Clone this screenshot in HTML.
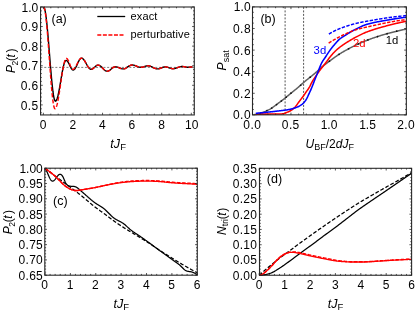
<!DOCTYPE html>
<html><head><meta charset="utf-8"><title>figure</title>
<style>
html,body{margin:0;padding:0;background:#fff;}
svg{will-change:transform;display:block;font-family:"Liberation Sans",sans-serif;}
</style></head>
<body><svg width="415" height="311" viewBox="0 0 415 311">
<rect width="415" height="311" fill="#fff"/>
<path d="M40.55,67.4H194.3" stroke="#505050" stroke-width="0.75" stroke-dasharray="2,1.7" fill="none"/>
<path d="M43.60,7.00 L44.09,7.40 L44.58,8.60 L45.08,10.59 L45.57,13.31 L46.06,16.73 L46.55,20.80 L47.04,25.43 L47.53,30.55 L48.02,36.08 L48.52,41.91 L49.01,47.95 L49.50,54.10 L49.99,60.25 L50.48,66.29 L50.98,72.12 L51.47,77.65 L51.96,82.77 L52.45,87.40 L52.94,91.47 L53.43,94.89 L53.92,97.61 L54.42,99.60 L54.91,100.80 L55.40,101.20 L55.85,101.03 L56.29,100.50 L56.74,99.65 L57.18,98.47 L57.63,96.98 L58.07,95.22 L58.52,93.22 L58.97,91.00 L59.41,88.61 L59.86,86.08 L60.30,83.46 L60.75,80.80 L61.20,78.14 L61.64,75.52 L62.09,72.99 L62.53,70.60 L62.98,68.38 L63.42,66.38 L63.87,64.62 L64.32,63.13 L64.76,61.95 L65.21,61.10 L65.65,60.57 L66.10,60.40 L66.40,60.44 L66.69,60.56 L66.99,60.77 L67.28,61.04 L67.58,61.39 L67.88,61.81 L68.17,62.28 L68.47,62.80 L68.76,63.36 L69.06,63.96 L69.35,64.57 L69.65,65.20 L69.95,65.83 L70.24,66.44 L70.54,67.04 L70.83,67.60 L71.13,68.12 L71.42,68.59 L71.72,69.01 L72.02,69.36 L72.31,69.63 L72.61,69.84 L72.90,69.96 L73.20,70.00 L73.55,69.95 L73.89,69.80 L74.24,69.55 L74.58,69.21 L74.93,68.78 L75.28,68.27 L75.62,67.69 L75.97,67.05 L76.31,66.36 L76.66,65.63 L77.00,64.87 L77.35,64.10 L77.70,63.33 L78.04,62.57 L78.39,61.84 L78.73,61.15 L79.08,60.51 L79.42,59.93 L79.77,59.42 L80.12,58.99 L80.46,58.65 L80.81,58.40 L81.15,58.25 L81.50,58.20 L81.90,58.25 L82.30,58.39 L82.70,58.62 L83.10,58.94 L83.50,59.35 L83.90,59.83 L84.30,60.37 L84.70,60.98 L85.10,61.63 L85.50,62.31 L85.90,63.03 L86.30,63.75 L86.70,64.47 L87.10,65.19 L87.50,65.87 L87.90,66.52 L88.30,67.13 L88.70,67.67 L89.10,68.15 L89.50,68.56 L89.90,68.88 L90.30,69.11 L90.70,69.25 L91.10,69.30 L91.39,69.28 L91.68,69.23 L91.97,69.14 L92.27,69.02 L92.56,68.87 L92.85,68.68 L93.14,68.48 L93.43,68.25 L93.72,68.00 L94.02,67.74 L94.31,67.47 L94.60,67.20 L94.89,66.93 L95.18,66.66 L95.47,66.40 L95.77,66.15 L96.06,65.92 L96.35,65.72 L96.64,65.53 L96.93,65.38 L97.22,65.26 L97.52,65.17 L97.81,65.12 L98.10,65.10 L98.48,65.13 L98.86,65.20 L99.24,65.33 L99.62,65.51 L100.00,65.73 L100.38,65.99 L100.75,66.29 L101.13,66.62 L101.51,66.98 L101.89,67.36 L102.27,67.75 L102.65,68.15 L103.03,68.55 L103.41,68.94 L103.79,69.32 L104.17,69.68 L104.55,70.01 L104.92,70.31 L105.30,70.57 L105.68,70.79 L106.06,70.97 L106.44,71.10 L106.82,71.17 L107.20,71.20 L107.54,71.18 L107.87,71.13 L108.21,71.03 L108.54,70.91 L108.88,70.75 L109.21,70.56 L109.55,70.34 L109.88,70.10 L110.22,69.84 L110.55,69.57 L110.89,69.29 L111.22,69.00 L111.56,68.71 L111.90,68.43 L112.23,68.16 L112.57,67.90 L112.90,67.66 L113.24,67.44 L113.57,67.25 L113.91,67.09 L114.24,66.97 L114.58,66.87 L114.91,66.82 L115.25,66.80 L115.58,66.81 L115.92,66.84 L116.25,66.88 L116.58,66.94 L116.92,67.02 L117.25,67.11 L117.58,67.21 L117.92,67.32 L118.25,67.45 L118.58,67.58 L118.92,67.71 L119.25,67.85 L119.58,67.99 L119.92,68.12 L120.25,68.25 L120.58,68.38 L120.92,68.49 L121.25,68.59 L121.58,68.68 L121.92,68.76 L122.25,68.82 L122.58,68.86 L122.92,68.89 L123.25,68.90 L123.62,68.88 L124.00,68.83 L124.37,68.75 L124.74,68.64 L125.11,68.50 L125.49,68.33 L125.86,68.14 L126.23,67.93 L126.61,67.70 L126.98,67.45 L127.35,67.20 L127.72,66.95 L128.10,66.70 L128.47,66.45 L128.84,66.20 L129.22,65.98 L129.59,65.76 L129.96,65.57 L130.34,65.40 L130.71,65.26 L131.08,65.15 L131.45,65.07 L131.83,65.02 L132.20,65.00 L132.56,65.01 L132.92,65.04 L133.29,65.09 L133.65,65.15 L134.01,65.24 L134.38,65.34 L134.74,65.45 L135.10,65.58 L135.46,65.71 L135.82,65.85 L136.19,66.00 L136.55,66.15 L136.91,66.30 L137.28,66.45 L137.64,66.59 L138.00,66.73 L138.36,66.85 L138.72,66.96 L139.09,67.06 L139.45,67.15 L139.81,67.21 L140.18,67.26 L140.54,67.29 L140.90,67.30 L141.19,67.29 L141.48,67.27 L141.78,67.24 L142.07,67.20 L142.36,67.15 L142.65,67.08 L142.94,67.01 L143.23,66.92 L143.53,66.84 L143.82,66.74 L144.11,66.65 L144.40,66.55 L144.69,66.45 L144.98,66.36 L145.28,66.26 L145.57,66.17 L145.86,66.09 L146.15,66.02 L146.44,65.95 L146.73,65.90 L147.03,65.86 L147.32,65.83 L147.61,65.81 L147.90,65.80 L148.30,65.81 L148.71,65.85 L149.11,65.92 L149.52,66.01 L149.92,66.12 L150.32,66.25 L150.73,66.41 L151.13,66.57 L151.54,66.76 L151.94,66.95 L152.35,67.15 L152.75,67.35 L153.15,67.55 L153.56,67.75 L153.96,67.94 L154.37,68.12 L154.77,68.29 L155.18,68.45 L155.58,68.58 L155.98,68.69 L156.39,68.78 L156.79,68.85 L157.20,68.89 L157.60,68.90 L157.92,68.89 L158.23,68.87 L158.55,68.82 L158.87,68.77 L159.18,68.69 L159.50,68.61 L159.82,68.51 L160.13,68.40 L160.45,68.28 L160.77,68.16 L161.08,68.03 L161.40,67.90 L161.72,67.77 L162.03,67.64 L162.35,67.52 L162.67,67.40 L162.98,67.29 L163.30,67.19 L163.62,67.11 L163.93,67.03 L164.25,66.98 L164.57,66.93 L164.88,66.91 L165.20,66.90 L165.52,66.91 L165.84,66.93 L166.16,66.97 L166.48,67.02 L166.80,67.09 L167.12,67.16 L167.45,67.25 L167.77,67.35 L168.09,67.46 L168.41,67.57 L168.73,67.68 L169.05,67.80 L169.37,67.92 L169.69,68.03 L170.01,68.14 L170.33,68.25 L170.65,68.35 L170.97,68.44 L171.30,68.51 L171.62,68.58 L171.94,68.63 L172.26,68.67 L172.58,68.69 L172.90,68.70 L173.28,68.69 L173.67,68.66 L174.05,68.62 L174.43,68.55 L174.82,68.47 L175.20,68.38 L175.58,68.27 L175.97,68.15 L176.35,68.02 L176.73,67.88 L177.12,67.74 L177.50,67.60 L177.88,67.46 L178.27,67.32 L178.65,67.18 L179.03,67.05 L179.42,66.93 L179.80,66.82 L180.18,66.73 L180.57,66.65 L180.95,66.58 L181.33,66.54 L181.72,66.51 L182.10,66.50 L182.32,66.50 L182.55,66.51 L182.78,66.53 L183.00,66.55 L183.22,66.57 L183.45,66.60 L183.67,66.64 L183.90,66.67 L184.12,66.72 L184.35,66.76 L184.57,66.80 L184.80,66.85 L185.03,66.90 L185.25,66.94 L185.47,66.98 L185.70,67.02 L185.93,67.06 L186.15,67.10 L186.38,67.13 L186.60,67.15 L186.82,67.17 L187.05,67.19 L187.28,67.20 L187.50,67.20 L187.70,67.20 L187.91,67.20 L188.11,67.19 L188.32,67.19 L188.52,67.18 L188.72,67.17 L188.93,67.16 L189.13,67.15 L189.34,67.14 L189.54,67.13 L189.75,67.11 L189.95,67.10 L190.15,67.09 L190.36,67.07 L190.56,67.06 L190.77,67.05 L190.97,67.04 L191.18,67.03 L191.38,67.02 L191.58,67.01 L191.79,67.01 L191.99,67.00 L192.20,67.00 L192.40,67.00" fill="none" stroke="#000" stroke-width="1.4" stroke-linejoin="round"/>
<path d="M43.60,7.00 L44.07,7.44 L44.55,8.73 L45.02,10.87 L45.49,13.82 L45.96,17.52 L46.44,21.91 L46.91,26.91 L47.38,32.45 L47.86,38.42 L48.33,44.73 L48.80,51.26 L49.28,57.90 L49.75,64.54 L50.22,71.07 L50.69,77.38 L51.17,83.35 L51.64,88.89 L52.11,93.89 L52.59,98.28 L53.06,101.98 L53.53,104.93 L54.00,107.07 L54.48,108.36 L54.95,108.80 L55.43,108.58 L55.90,107.94 L56.38,106.88 L56.86,105.42 L57.34,103.59 L57.81,101.42 L58.29,98.94 L58.77,96.20 L59.24,93.24 L59.72,90.12 L60.20,86.89 L60.68,83.60 L61.15,80.31 L61.63,77.08 L62.11,73.96 L62.58,71.00 L63.06,68.26 L63.54,65.78 L64.01,63.61 L64.49,61.78 L64.97,60.32 L65.45,59.26 L65.92,58.62 L66.40,58.40 L66.67,58.45 L66.94,58.59 L67.21,58.81 L67.48,59.13 L67.75,59.53 L68.03,60.00 L68.30,60.53 L68.57,61.12 L68.84,61.76 L69.11,62.44 L69.38,63.14 L69.65,63.85 L69.92,64.56 L70.19,65.26 L70.46,65.94 L70.73,66.57 L71.00,67.17 L71.28,67.70 L71.55,68.17 L71.82,68.57 L72.09,68.89 L72.36,69.11 L72.63,69.25 L72.90,69.30 L73.26,69.25 L73.62,69.11 L73.98,68.88 L74.33,68.56 L74.69,68.15 L75.05,67.67 L75.41,67.13 L75.77,66.53 L76.12,65.87 L76.48,65.19 L76.84,64.47 L77.20,63.75 L77.56,63.03 L77.92,62.31 L78.28,61.63 L78.63,60.98 L78.99,60.37 L79.35,59.83 L79.71,59.35 L80.07,58.94 L80.42,58.62 L80.78,58.39 L81.14,58.25 L81.50,58.20 L81.90,58.25 L82.30,58.39 L82.70,58.62 L83.10,58.94 L83.50,59.35 L83.90,59.83 L84.30,60.37 L84.70,60.98 L85.10,61.63 L85.50,62.31 L85.90,63.03 L86.30,63.75 L86.70,64.47 L87.10,65.19 L87.50,65.87 L87.90,66.52 L88.30,67.13 L88.70,67.67 L89.10,68.15 L89.50,68.56 L89.90,68.88 L90.30,69.11 L90.70,69.25 L91.10,69.30 L91.39,69.28 L91.68,69.23 L91.97,69.14 L92.27,69.02 L92.56,68.87 L92.85,68.68 L93.14,68.48 L93.43,68.25 L93.72,68.00 L94.02,67.74 L94.31,67.47 L94.60,67.20 L94.89,66.93 L95.18,66.66 L95.47,66.40 L95.77,66.15 L96.06,65.92 L96.35,65.72 L96.64,65.53 L96.93,65.38 L97.22,65.26 L97.52,65.17 L97.81,65.12 L98.10,65.10 L98.48,65.13 L98.86,65.20 L99.24,65.33 L99.62,65.51 L100.00,65.73 L100.38,65.99 L100.75,66.29 L101.13,66.62 L101.51,66.98 L101.89,67.36 L102.27,67.75 L102.65,68.15 L103.03,68.55 L103.41,68.94 L103.79,69.32 L104.17,69.68 L104.55,70.01 L104.92,70.31 L105.30,70.57 L105.68,70.79 L106.06,70.97 L106.44,71.10 L106.82,71.17 L107.20,71.20 L107.54,71.18 L107.87,71.13 L108.21,71.03 L108.54,70.91 L108.88,70.75 L109.21,70.56 L109.55,70.34 L109.88,70.10 L110.22,69.84 L110.55,69.57 L110.89,69.29 L111.22,69.00 L111.56,68.71 L111.90,68.43 L112.23,68.16 L112.57,67.90 L112.90,67.66 L113.24,67.44 L113.57,67.25 L113.91,67.09 L114.24,66.97 L114.58,66.87 L114.91,66.82 L115.25,66.80 L115.58,66.81 L115.92,66.84 L116.25,66.88 L116.58,66.94 L116.92,67.02 L117.25,67.11 L117.58,67.21 L117.92,67.32 L118.25,67.45 L118.58,67.58 L118.92,67.71 L119.25,67.85 L119.58,67.99 L119.92,68.12 L120.25,68.25 L120.58,68.38 L120.92,68.49 L121.25,68.59 L121.58,68.68 L121.92,68.76 L122.25,68.82 L122.58,68.86 L122.92,68.89 L123.25,68.90 L123.62,68.88 L124.00,68.83 L124.37,68.75 L124.74,68.64 L125.11,68.50 L125.49,68.33 L125.86,68.14 L126.23,67.93 L126.61,67.70 L126.98,67.45 L127.35,67.20 L127.72,66.95 L128.10,66.70 L128.47,66.45 L128.84,66.20 L129.22,65.98 L129.59,65.76 L129.96,65.57 L130.34,65.40 L130.71,65.26 L131.08,65.15 L131.45,65.07 L131.83,65.02 L132.20,65.00 L132.56,65.01 L132.92,65.04 L133.29,65.09 L133.65,65.15 L134.01,65.24 L134.38,65.34 L134.74,65.45 L135.10,65.58 L135.46,65.71 L135.82,65.85 L136.19,66.00 L136.55,66.15 L136.91,66.30 L137.28,66.45 L137.64,66.59 L138.00,66.73 L138.36,66.85 L138.72,66.96 L139.09,67.06 L139.45,67.15 L139.81,67.21 L140.18,67.26 L140.54,67.29 L140.90,67.30 L141.19,67.29 L141.48,67.27 L141.78,67.24 L142.07,67.20 L142.36,67.15 L142.65,67.08 L142.94,67.01 L143.23,66.92 L143.53,66.84 L143.82,66.74 L144.11,66.65 L144.40,66.55 L144.69,66.45 L144.98,66.36 L145.28,66.26 L145.57,66.17 L145.86,66.09 L146.15,66.02 L146.44,65.95 L146.73,65.90 L147.03,65.86 L147.32,65.83 L147.61,65.81 L147.90,65.80 L148.30,65.81 L148.71,65.85 L149.11,65.92 L149.52,66.01 L149.92,66.12 L150.32,66.25 L150.73,66.41 L151.13,66.57 L151.54,66.76 L151.94,66.95 L152.35,67.15 L152.75,67.35 L153.15,67.55 L153.56,67.75 L153.96,67.94 L154.37,68.12 L154.77,68.29 L155.18,68.45 L155.58,68.58 L155.98,68.69 L156.39,68.78 L156.79,68.85 L157.20,68.89 L157.60,68.90 L157.92,68.89 L158.23,68.87 L158.55,68.82 L158.87,68.77 L159.18,68.69 L159.50,68.61 L159.82,68.51 L160.13,68.40 L160.45,68.28 L160.77,68.16 L161.08,68.03 L161.40,67.90 L161.72,67.77 L162.03,67.64 L162.35,67.52 L162.67,67.40 L162.98,67.29 L163.30,67.19 L163.62,67.11 L163.93,67.03 L164.25,66.98 L164.57,66.93 L164.88,66.91 L165.20,66.90 L165.52,66.91 L165.84,66.93 L166.16,66.97 L166.48,67.02 L166.80,67.09 L167.12,67.16 L167.45,67.25 L167.77,67.35 L168.09,67.46 L168.41,67.57 L168.73,67.68 L169.05,67.80 L169.37,67.92 L169.69,68.03 L170.01,68.14 L170.33,68.25 L170.65,68.35 L170.97,68.44 L171.30,68.51 L171.62,68.58 L171.94,68.63 L172.26,68.67 L172.58,68.69 L172.90,68.70 L173.28,68.69 L173.67,68.66 L174.05,68.62 L174.43,68.55 L174.82,68.47 L175.20,68.38 L175.58,68.27 L175.97,68.15 L176.35,68.02 L176.73,67.88 L177.12,67.74 L177.50,67.60 L177.88,67.46 L178.27,67.32 L178.65,67.18 L179.03,67.05 L179.42,66.93 L179.80,66.82 L180.18,66.73 L180.57,66.65 L180.95,66.58 L181.33,66.54 L181.72,66.51 L182.10,66.50 L182.32,66.50 L182.55,66.51 L182.78,66.53 L183.00,66.55 L183.22,66.57 L183.45,66.60 L183.67,66.64 L183.90,66.67 L184.12,66.72 L184.35,66.76 L184.57,66.80 L184.80,66.85 L185.03,66.90 L185.25,66.94 L185.47,66.98 L185.70,67.02 L185.93,67.06 L186.15,67.10 L186.38,67.13 L186.60,67.15 L186.82,67.17 L187.05,67.19 L187.28,67.20 L187.50,67.20 L187.70,67.20 L187.91,67.20 L188.11,67.19 L188.32,67.19 L188.52,67.18 L188.72,67.17 L188.93,67.16 L189.13,67.15 L189.34,67.14 L189.54,67.13 L189.75,67.11 L189.95,67.10 L190.15,67.09 L190.36,67.07 L190.56,67.06 L190.77,67.05 L190.97,67.04 L191.18,67.03 L191.38,67.02 L191.58,67.01 L191.79,67.01 L191.99,67.00 L192.20,67.00 L192.40,67.00" fill="none" stroke="#f00" stroke-width="1.4" stroke-dasharray="4.2,2.0" stroke-linejoin="round"/>
<rect x="40.55" y="7.0" width="153.75" height="107.95" fill="none" stroke="#2a2a2a" stroke-width="1.1"/>
<path d="M43.40,114.95v-2.2M43.40,7.0v2.2M72.98,114.95v-2.2M72.98,7.0v2.2M102.56,114.95v-2.2M102.56,7.0v2.2M132.14,114.95v-2.2M132.14,7.0v2.2M161.72,114.95v-2.2M161.72,7.0v2.2M191.30,114.95v-2.2M191.30,7.0v2.2M50.80,114.95v-1.3M50.80,7.0v1.3M58.19,114.95v-1.3M58.19,7.0v1.3M65.58,114.95v-1.3M65.58,7.0v1.3M80.38,114.95v-1.3M80.38,7.0v1.3M87.77,114.95v-1.3M87.77,7.0v1.3M95.16,114.95v-1.3M95.16,7.0v1.3M109.95,114.95v-1.3M109.95,7.0v1.3M117.35,114.95v-1.3M117.35,7.0v1.3M124.75,114.95v-1.3M124.75,7.0v1.3M139.53,114.95v-1.3M139.53,7.0v1.3M146.93,114.95v-1.3M146.93,7.0v1.3M154.32,114.95v-1.3M154.32,7.0v1.3M169.11,114.95v-1.3M169.11,7.0v1.3M176.51,114.95v-1.3M176.51,7.0v1.3M183.91,114.95v-1.3M183.91,7.0v1.3M40.55,104.90h2.2M194.3,104.90h-2.2M40.55,85.31h2.2M194.3,85.31h-2.2M40.55,65.72h2.2M194.3,65.72h-2.2M40.55,46.13h2.2M194.3,46.13h-2.2M40.55,26.54h2.2M194.3,26.54h-2.2M40.55,6.95h2.2M194.3,6.95h-2.2M40.55,112.74h1.3M194.3,112.74h-1.3M40.55,108.82h1.3M194.3,108.82h-1.3M40.55,100.98h1.3M194.3,100.98h-1.3M40.55,97.06h1.3M194.3,97.06h-1.3M40.55,93.15h1.3M194.3,93.15h-1.3M40.55,89.23h1.3M194.3,89.23h-1.3M40.55,81.39h1.3M194.3,81.39h-1.3M40.55,77.47h1.3M194.3,77.47h-1.3M40.55,73.56h1.3M194.3,73.56h-1.3M40.55,69.64h1.3M194.3,69.64h-1.3M40.55,61.80h1.3M194.3,61.80h-1.3M40.55,57.88h1.3M194.3,57.88h-1.3M40.55,53.97h1.3M194.3,53.97h-1.3M40.55,50.05h1.3M194.3,50.05h-1.3M40.55,42.21h1.3M194.3,42.21h-1.3M40.55,38.29h1.3M194.3,38.29h-1.3M40.55,34.38h1.3M194.3,34.38h-1.3M40.55,30.46h1.3M194.3,30.46h-1.3M40.55,22.62h1.3M194.3,22.62h-1.3M40.55,18.70h1.3M194.3,18.70h-1.3M40.55,14.79h1.3M194.3,14.79h-1.3M40.55,10.87h1.3M194.3,10.87h-1.3" stroke="#222" stroke-width="0.75" fill="none"/>
<text x="43.20" y="128.90" text-anchor="middle" font-size="12" fill="#000" >0</text>
<text x="72.78" y="128.90" text-anchor="middle" font-size="12" fill="#000" >2</text>
<text x="102.36" y="128.90" text-anchor="middle" font-size="12" fill="#000" >4</text>
<text x="131.94" y="128.90" text-anchor="middle" font-size="12" fill="#000" >6</text>
<text x="161.52" y="128.90" text-anchor="middle" font-size="12" fill="#000" >8</text>
<text x="191.70" y="128.90" text-anchor="middle" font-size="12" fill="#000" >10</text>
<text x="38.60" y="109.50" text-anchor="end" font-size="12" letter-spacing="0.4" fill="#000" >0.5</text>
<text x="38.60" y="89.91" text-anchor="end" font-size="12" letter-spacing="0.4" fill="#000" >0.6</text>
<text x="38.60" y="70.32" text-anchor="end" font-size="12" letter-spacing="0.4" fill="#000" >0.7</text>
<text x="38.60" y="50.73" text-anchor="end" font-size="12" letter-spacing="0.4" fill="#000" >0.8</text>
<text x="38.60" y="31.14" text-anchor="end" font-size="12" letter-spacing="0.4" fill="#000" >0.9</text>
<text x="38.20" y="11.55" text-anchor="end" font-size="12" fill="#000" >1.0</text>
<text x="51.50" y="22.60" text-anchor="start" font-size="12.5" fill="#000" >(a)</text>
<path d="M97.3,16.5H125.2" stroke="#000" stroke-width="1.3"/>
<path d="M97.3,35.0H124.0" stroke="#f00" stroke-width="1.3" stroke-dasharray="4.0,1.55"/>
<text x="130.60" y="19.90" text-anchor="start" font-size="11" letter-spacing="0.1" fill="#000" >exact</text>
<text x="130.60" y="38.20" text-anchor="start" font-size="11" letter-spacing="0.1" fill="#000" >perturbative</text>
<g transform="translate(14.6,73.0) rotate(-90)" font-size="12" fill="#000">
<text x="0" y="0" font-size="12" font-style="italic">P</text>
<text x="7.6" y="3.4" font-size="8.5">2</text>
<text x="12.0" y="0" font-size="12">(</text>
<text x="15.5" y="0" font-size="12" font-style="italic">t</text>
<text x="20.4" y="0" font-size="12">)</text>
</g>
<text x="110.2" y="148.4" font-size="12.5" fill="#000"><tspan font-style="italic">tJ</tspan><tspan font-size="9.5" dx="0.2" dy="1.5">F</tspan></text>
<path d="M285.1,6.9V114.85" stroke="#555" stroke-width="1.0" stroke-dasharray="2,1.5" fill="none"/>
<path d="M303.6,6.9V114.85" stroke="#555" stroke-width="1.0" stroke-dasharray="2,1.5" fill="none"/>
<path d="M254.30,114.60 L254.81,114.57 L255.32,114.52 L255.82,114.46 L256.33,114.39 L256.84,114.31 L257.35,114.23 L257.85,114.13 L258.36,114.01 L258.87,113.87 L259.38,113.70 L259.88,113.53 L260.39,113.35 L260.90,113.16 L261.41,112.97 L261.92,112.78 L262.42,112.60 L262.93,112.40 L263.44,112.20 L263.95,112.00 L264.45,111.79 L264.96,111.58 L265.47,111.36 L265.98,111.13 L266.48,110.90 L266.99,110.66 L267.50,110.42 L268.01,110.17 L268.52,109.91 L269.02,109.65 L269.53,109.37 L270.04,109.09 L270.55,108.79 L271.05,108.47 L271.56,108.15 L272.07,107.81 L272.58,107.47 L273.08,107.11 L273.59,106.75 L274.10,106.38 L274.61,106.01 L275.12,105.63 L275.62,105.25 L276.13,104.87 L276.64,104.49 L277.15,104.10 L277.65,103.72 L278.16,103.34 L278.67,102.97 L279.18,102.60 L279.68,102.23 L280.19,101.85 L280.70,101.47 L281.21,101.09 L281.72,100.71 L282.22,100.32 L282.73,99.94 L283.24,99.55 L283.75,99.15 L284.25,98.75 L284.76,98.35 L285.27,97.94 L285.78,97.53 L286.28,97.11 L286.79,96.69 L287.30,96.26 L287.81,95.84 L288.32,95.41 L288.82,94.98 L289.33,94.56 L289.84,94.13 L290.35,93.72 L290.85,93.30 L291.36,92.89 L291.87,92.48 L292.38,92.07 L292.88,91.66 L293.39,91.26 L293.90,90.85 L294.41,90.44 L294.92,90.03 L295.42,89.62 L295.93,89.21 L296.44,88.80 L296.95,88.38 L297.45,87.96 L297.96,87.54 L298.47,87.11 L298.98,86.68 L299.48,86.24 L299.99,85.79 L300.50,85.33 L301.01,84.86 L301.52,84.39 L302.02,83.92 L302.53,83.46 L303.04,83.00 L303.55,82.56 L304.05,82.13 L304.56,81.70 L305.07,81.28 L305.58,80.86 L306.08,80.44 L306.59,80.03 L307.10,79.63 L307.61,79.22 L308.12,78.82 L308.62,78.42 L309.13,78.02 L309.64,77.62 L310.15,77.21 L310.65,76.81 L311.16,76.41 L311.67,76.00 L312.18,75.59 L312.68,75.18 L313.19,74.76 L313.70,74.34 L314.21,73.91 L314.72,73.48 L315.22,73.04 L315.73,72.60 L316.24,72.16 L316.75,71.71 L317.25,71.27 L317.76,70.82 L318.27,70.36 L318.78,69.91 L319.28,69.45 L319.79,68.98 L320.30,68.51 L320.81,68.03 L321.32,67.56 L321.82,67.10 L322.33,66.66 L322.84,66.23 L323.35,65.82 L323.85,65.42 L324.36,65.02 L324.87,64.63 L325.38,64.24 L325.88,63.86 L326.39,63.48 L326.90,63.10 L327.41,62.72 L327.92,62.34 L328.42,61.96 L328.93,61.58 L329.44,61.19 L329.95,60.81 L330.45,60.44 L330.96,60.06 L331.47,59.68 L331.98,59.31 L332.48,58.94 L332.99,58.57 L333.50,58.20 L334.01,57.84 L334.52,57.47 L335.02,57.11 L335.53,56.75 L336.04,56.39 L336.55,56.03 L337.05,55.68 L337.56,55.32 L338.07,54.98 L338.58,54.63 L339.08,54.30 L339.59,53.97 L340.10,53.65 L340.61,53.33 L341.12,53.02 L341.62,52.71 L342.13,52.41 L342.64,52.11 L343.15,51.81 L343.65,51.52 L344.16,51.23 L344.67,50.94 L345.18,50.66 L345.68,50.37 L346.19,50.09 L346.70,49.82 L347.21,49.54 L347.72,49.26 L348.22,48.99 L348.73,48.72 L349.24,48.44 L349.75,48.17 L350.25,47.91 L350.76,47.64 L351.27,47.38 L351.78,47.11 L352.28,46.85 L352.79,46.59 L353.30,46.34 L353.81,46.08 L354.32,45.83 L354.82,45.58 L355.33,45.34 L355.84,45.09 L356.35,44.85 L356.85,44.61 L357.36,44.38 L357.87,44.15 L358.38,43.92 L358.88,43.69 L359.39,43.47 L359.90,43.25 L360.41,43.03 L360.92,42.81 L361.42,42.59 L361.93,42.37 L362.44,42.16 L362.95,41.94 L363.45,41.73 L363.96,41.52 L364.47,41.32 L364.98,41.11 L365.48,40.91 L365.99,40.70 L366.50,40.50 L367.01,40.30 L367.52,40.10 L368.02,39.91 L368.53,39.71 L369.04,39.52 L369.55,39.33 L370.05,39.14 L370.56,38.95 L371.07,38.77 L371.58,38.59 L372.08,38.40 L372.59,38.22 L373.10,38.04 L373.61,37.87 L374.12,37.69 L374.62,37.52 L375.13,37.35 L375.64,37.17 L376.15,37.01 L376.65,36.84 L377.16,36.67 L377.67,36.51 L378.18,36.34 L378.68,36.18 L379.19,36.02 L379.70,35.86 L380.21,35.71 L380.72,35.55 L381.22,35.40 L381.73,35.24 L382.24,35.09 L382.75,34.94 L383.25,34.79 L383.76,34.64 L384.27,34.50 L384.78,34.35 L385.28,34.21 L385.79,34.07 L386.30,33.92 L386.81,33.78 L387.32,33.65 L387.82,33.51 L388.33,33.37 L388.84,33.23 L389.35,33.10 L389.85,32.96 L390.36,32.83 L390.87,32.69 L391.38,32.56 L391.88,32.43 L392.39,32.30 L392.90,32.17 L393.41,32.04 L393.92,31.91 L394.42,31.78 L394.93,31.65 L395.44,31.52 L395.95,31.40 L396.45,31.27 L396.96,31.15 L397.47,31.03 L397.98,30.91 L398.48,30.78 L398.99,30.66 L399.50,30.55 L400.01,30.43 L400.52,30.31 L401.02,30.20 L401.53,30.08 L402.04,29.97 L402.55,29.85 L403.05,29.74 L403.56,29.63 L404.07,29.52 L404.58,29.42 L405.08,29.31 L405.59,29.20 L406.10,29.10" fill="none" stroke="#606060" stroke-width="1.5" stroke-linejoin="round" />
<circle cx="257.31" cy="114.23" r="0.85" fill="#111"/>
<circle cx="262.12" cy="112.71" r="0.85" fill="#111"/>
<circle cx="266.92" cy="110.70" r="0.85" fill="#111"/>
<circle cx="271.73" cy="108.04" r="0.85" fill="#111"/>
<circle cx="276.54" cy="104.56" r="0.85" fill="#111"/>
<circle cx="281.35" cy="100.99" r="0.85" fill="#111"/>
<circle cx="286.15" cy="97.22" r="0.85" fill="#111"/>
<circle cx="290.96" cy="93.21" r="0.85" fill="#111"/>
<circle cx="300.57" cy="85.26" r="0.85" fill="#111"/>
<circle cx="310.19" cy="77.18" r="0.85" fill="#111"/>
<circle cx="319.81" cy="68.97" r="0.85" fill="#111"/>
<circle cx="329.42" cy="61.21" r="0.85" fill="#111"/>
<circle cx="339.03" cy="54.33" r="0.85" fill="#111"/>
<circle cx="348.65" cy="48.76" r="0.85" fill="#111"/>
<circle cx="358.26" cy="43.97" r="0.85" fill="#111"/>
<circle cx="367.88" cy="39.96" r="0.85" fill="#111"/>
<circle cx="377.50" cy="36.56" r="0.85" fill="#111"/>
<circle cx="387.11" cy="33.70" r="0.85" fill="#111"/>
<circle cx="396.73" cy="31.21" r="0.85" fill="#111"/>
<path d="M255.80,114.15 L256.30,114.15 L256.81,114.15 L257.31,114.15 L257.81,114.15 L258.31,114.15 L258.82,114.15 L259.32,114.15 L259.82,114.15 L260.32,114.14 L260.83,114.14 L261.33,114.14 L261.83,114.14 L262.33,114.14 L262.84,114.14 L263.34,114.13 L263.84,114.13 L264.35,114.13 L264.85,114.13 L265.35,114.13 L265.85,114.12 L266.36,114.12 L266.86,114.12 L267.36,114.11 L267.86,114.11 L268.37,114.11 L268.87,114.11 L269.37,114.10 L269.87,114.10 L270.38,114.10 L270.88,114.09 L271.38,114.09 L271.89,114.09 L272.39,114.08 L272.89,114.08 L273.39,114.08 L273.90,114.07 L274.40,114.07 L274.90,114.06 L275.40,114.05 L275.91,114.05 L276.41,114.04 L276.91,114.03 L277.42,114.02 L277.92,114.01 L278.42,114.00 L278.92,113.99 L279.43,113.98 L279.93,113.96 L280.43,113.95 L280.93,113.93 L281.44,113.91 L281.94,113.89 L282.44,113.85 L282.94,113.77 L283.45,113.66 L283.95,113.54 L284.45,113.40 L284.96,113.25 L285.46,113.05 L285.96,112.80 L286.46,112.56 L286.97,112.35 L287.47,112.15 L287.97,111.96 L288.47,111.76 L288.98,111.55 L289.48,111.31 L289.98,111.05 L290.48,110.76 L290.99,110.45 L291.49,110.12 L291.99,109.77 L292.50,109.40 L293.00,109.01 L293.50,108.59 L294.00,108.15 L294.51,107.69 L295.01,107.19 L295.51,106.61 L296.01,105.98 L296.52,105.31 L297.02,104.61 L297.52,103.90 L298.02,103.17 L298.53,102.46 L299.03,101.76 L299.53,101.09 L300.04,100.43 L300.54,99.78 L301.04,99.12 L301.54,98.47 L302.05,97.81 L302.55,97.14 L303.05,96.46 L303.55,95.77 L304.06,95.06 L304.56,94.33 L305.06,93.57 L305.56,92.81 L306.07,92.05 L306.57,91.32 L307.07,90.62 L307.58,89.92 L308.08,89.21 L308.58,88.47 L309.08,87.69 L309.59,86.86 L310.09,85.93 L310.59,84.82 L311.09,83.71 L311.60,82.76 L312.10,81.87 L312.60,81.02 L313.11,80.20 L313.61,79.40 L314.11,78.63 L314.61,77.87 L315.12,77.12 L315.62,76.37 L316.12,75.62 L316.62,74.87 L317.13,74.14 L317.63,73.42 L318.13,72.71 L318.63,72.00 L319.14,71.30 L319.64,70.62 L320.14,69.93 L320.65,69.26 L321.15,68.59 L321.65,67.93 L322.15,67.29 L322.66,66.65 L323.16,66.02 L323.66,65.39 L324.16,64.77 L324.67,64.14 L325.17,63.50 L325.67,62.86 L326.17,62.20 L326.68,61.53 L327.18,60.84 L327.68,60.14 L328.19,59.44 L328.69,58.75 L329.19,58.07 L329.69,57.41 L330.20,56.78 L330.70,56.17 L331.20,55.56 L331.70,54.97 L332.21,54.39 L332.71,53.82 L333.21,53.26 L333.71,52.72 L334.22,52.19 L334.72,51.68 L335.22,51.18 L335.73,50.70 L336.23,50.24 L336.73,49.78 L337.23,49.34 L337.74,48.90 L338.24,48.48 L338.74,48.06 L339.24,47.66 L339.75,47.26 L340.25,46.88 L340.75,46.50 L341.25,46.13 L341.76,45.76 L342.26,45.41 L342.76,45.06 L343.27,44.71 L343.77,44.37 L344.27,44.03 L344.77,43.70 L345.28,43.37 L345.78,43.04 L346.28,42.72 L346.78,42.40 L347.29,42.08 L347.79,41.77 L348.29,41.47 L348.79,41.16 L349.30,40.87 L349.80,40.57 L350.30,40.27 L350.81,39.98 L351.31,39.69 L351.81,39.40 L352.31,39.10 L352.82,38.81 L353.32,38.53 L353.82,38.24 L354.32,37.96 L354.83,37.68 L355.33,37.40 L355.83,37.13 L356.34,36.86 L356.84,36.59 L357.34,36.33 L357.84,36.08 L358.35,35.83 L358.85,35.57 L359.35,35.32 L359.85,35.08 L360.36,34.83 L360.86,34.59 L361.36,34.34 L361.86,34.11 L362.37,33.87 L362.87,33.64 L363.37,33.41 L363.88,33.19 L364.38,32.97 L364.88,32.75 L365.38,32.54 L365.89,32.33 L366.39,32.13 L366.89,31.94 L367.39,31.75 L367.90,31.57 L368.40,31.38 L368.90,31.20 L369.40,31.02 L369.91,30.84 L370.41,30.67 L370.91,30.49 L371.42,30.32 L371.92,30.15 L372.42,29.98 L372.92,29.82 L373.43,29.65 L373.93,29.49 L374.43,29.33 L374.93,29.17 L375.44,29.01 L375.94,28.86 L376.44,28.70 L376.94,28.55 L377.45,28.40 L377.95,28.25 L378.45,28.10 L378.96,27.95 L379.46,27.81 L379.96,27.66 L380.46,27.52 L380.97,27.37 L381.47,27.23 L381.97,27.09 L382.47,26.95 L382.98,26.81 L383.48,26.67 L383.98,26.54 L384.48,26.40 L384.99,26.27 L385.49,26.13 L385.99,26.00 L386.50,25.86 L387.00,25.73 L387.50,25.60 L388.00,25.47 L388.51,25.33 L389.01,25.20 L389.51,25.07 L390.01,24.95 L390.52,24.82 L391.02,24.69 L391.52,24.56 L392.03,24.44 L392.53,24.31 L393.03,24.19 L393.53,24.07 L394.04,23.94 L394.54,23.82 L395.04,23.70 L395.54,23.58 L396.05,23.47 L396.55,23.35 L397.05,23.23 L397.55,23.12 L398.06,23.00 L398.56,22.89 L399.06,22.77 L399.57,22.66 L400.07,22.55 L400.57,22.44 L401.07,22.33 L401.58,22.22 L402.08,22.12 L402.58,22.01 L403.08,21.91 L403.59,21.80 L404.09,21.70 L404.59,21.60 L405.09,21.50 L405.60,21.40 L406.10,21.30" fill="none" stroke="#f00" stroke-width="1.55" stroke-linejoin="round" />
<path d="M255.80,113.30 L256.30,113.26 L256.81,113.21 L257.31,113.17 L257.81,113.12 L258.31,113.08 L258.82,113.03 L259.32,112.99 L259.82,112.94 L260.32,112.89 L260.83,112.85 L261.33,112.80 L261.83,112.75 L262.33,112.70 L262.84,112.66 L263.34,112.61 L263.84,112.56 L264.35,112.51 L264.85,112.46 L265.35,112.41 L265.85,112.36 L266.36,112.30 L266.86,112.25 L267.36,112.20 L267.86,112.15 L268.37,112.10 L268.87,112.05 L269.37,111.99 L269.87,111.94 L270.38,111.89 L270.88,111.83 L271.38,111.78 L271.89,111.72 L272.39,111.67 L272.89,111.61 L273.39,111.55 L273.90,111.50 L274.40,111.44 L274.90,111.38 L275.40,111.32 L275.91,111.26 L276.41,111.21 L276.91,111.14 L277.42,111.08 L277.92,111.02 L278.42,110.96 L278.92,110.90 L279.43,110.83 L279.93,110.77 L280.43,110.71 L280.93,110.65 L281.44,110.59 L281.94,110.53 L282.44,110.47 L282.94,110.41 L283.45,110.34 L283.95,110.28 L284.45,110.22 L284.96,110.15 L285.46,110.08 L285.96,110.01 L286.46,109.93 L286.97,109.86 L287.47,109.78 L287.97,109.70 L288.47,109.61 L288.98,109.52 L289.48,109.42 L289.98,109.32 L290.48,109.22 L290.99,109.10 L291.49,108.98 L291.99,108.85 L292.50,108.71 L293.00,108.57 L293.50,108.42 L294.00,108.26 L294.51,108.09 L295.01,107.92 L295.51,107.74 L296.01,107.55 L296.52,107.35 L297.02,107.15 L297.52,106.93 L298.02,106.70 L298.53,106.46 L299.03,106.20 L299.53,105.92 L300.04,105.63 L300.54,105.32 L301.04,104.99 L301.54,104.64 L302.05,104.27 L302.55,103.88 L303.05,103.45 L303.55,102.96 L304.06,102.41 L304.56,101.80 L305.06,101.14 L305.56,100.44 L306.07,99.70 L306.57,98.85 L307.07,97.90 L307.58,96.86 L308.08,95.78 L308.58,94.68 L309.08,93.61 L309.59,92.53 L310.09,91.43 L310.59,90.31 L311.09,89.16 L311.60,87.99 L312.10,86.79 L312.60,85.54 L313.11,84.23 L313.61,82.89 L314.11,81.57 L314.61,80.28 L315.12,79.00 L315.62,77.72 L316.12,76.45 L316.62,75.19 L317.13,73.93 L317.63,72.69 L318.13,71.45 L318.63,70.18 L319.14,68.90 L319.64,67.61 L320.14,66.36 L320.65,65.15 L321.15,64.02 L321.65,62.98 L322.15,62.06 L322.66,61.22 L323.16,60.43 L323.66,59.69 L324.16,58.96 L324.67,58.24 L325.17,57.50 L325.67,56.73 L326.17,55.96 L326.68,55.18 L327.18,54.40 L327.68,53.63 L328.19,52.87 L328.69,52.12 L329.19,51.38 L329.69,50.66 L330.20,49.97 L330.70,49.29 L331.20,48.63 L331.70,47.98 L332.21,47.34 L332.71,46.71 L333.21,46.10 L333.71,45.49 L334.22,44.89 L334.72,44.31 L335.22,43.73 L335.73,43.15 L336.23,42.56 L336.73,41.99 L337.23,41.43 L337.74,40.89 L338.24,40.37 L338.74,39.89 L339.24,39.43 L339.75,39.02 L340.25,38.62 L340.75,38.25 L341.25,37.89 L341.76,37.54 L342.26,37.21 L342.76,36.89 L343.27,36.57 L343.77,36.26 L344.27,35.94 L344.77,35.63 L345.28,35.32 L345.78,35.00 L346.28,34.68 L346.78,34.36 L347.29,34.04 L347.79,33.72 L348.29,33.41 L348.79,33.09 L349.30,32.78 L349.80,32.48 L350.30,32.17 L350.81,31.87 L351.31,31.57 L351.81,31.28 L352.31,30.99 L352.82,30.71 L353.32,30.43 L353.82,30.16 L354.32,29.90 L354.83,29.64 L355.33,29.38 L355.83,29.13 L356.34,28.87 L356.84,28.62 L357.34,28.37 L357.84,28.11 L358.35,27.86 L358.85,27.62 L359.35,27.37 L359.85,27.13 L360.36,26.90 L360.86,26.66 L361.36,26.43 L361.86,26.21 L362.37,25.99 L362.87,25.78 L363.37,25.57 L363.88,25.37 L364.38,25.18 L364.88,24.99 L365.38,24.82 L365.89,24.65 L366.39,24.48 L366.89,24.33 L367.39,24.19 L367.90,24.05 L368.40,23.91 L368.90,23.77 L369.40,23.64 L369.91,23.51 L370.41,23.38 L370.91,23.26 L371.42,23.14 L371.92,23.02 L372.42,22.90 L372.92,22.79 L373.43,22.68 L373.93,22.57 L374.43,22.46 L374.93,22.36 L375.44,22.25 L375.94,22.15 L376.44,22.05 L376.94,21.95 L377.45,21.85 L377.95,21.76 L378.45,21.66 L378.96,21.57 L379.46,21.48 L379.96,21.39 L380.46,21.30 L380.97,21.21 L381.47,21.12 L381.97,21.03 L382.47,20.94 L382.98,20.85 L383.48,20.77 L383.98,20.68 L384.48,20.59 L384.99,20.50 L385.49,20.42 L385.99,20.33 L386.50,20.24 L387.00,20.15 L387.50,20.06 L388.00,19.98 L388.51,19.89 L389.01,19.80 L389.51,19.71 L390.01,19.63 L390.52,19.54 L391.02,19.46 L391.52,19.37 L392.03,19.29 L392.53,19.21 L393.03,19.12 L393.53,19.04 L394.04,18.96 L394.54,18.88 L395.04,18.80 L395.54,18.72 L396.05,18.64 L396.55,18.56 L397.05,18.48 L397.55,18.41 L398.06,18.33 L398.56,18.25 L399.06,18.18 L399.57,18.10 L400.07,18.03 L400.57,17.96 L401.07,17.89 L401.58,17.81 L402.08,17.74 L402.58,17.67 L403.08,17.60 L403.59,17.53 L404.09,17.47 L404.59,17.40 L405.09,17.33 L405.60,17.27 L406.10,17.20" fill="none" stroke="#00f" stroke-width="1.55" stroke-linejoin="round" />
<path d="M328.65,43.10 L328.91,42.93 L329.17,42.76 L329.43,42.60 L329.69,42.43 L329.95,42.27 L330.20,42.10 L330.46,41.94 L330.72,41.78 L330.98,41.62 L331.24,41.46 L331.50,41.30 L331.76,41.14 L332.02,40.98 L332.28,40.83 L332.54,40.67 L332.79,40.52 L333.05,40.37 L333.31,40.21 L333.57,40.06 L333.83,39.91 L334.09,39.76 L334.35,39.61 L334.61,39.47 L334.87,39.32 L335.13,39.17 L335.38,39.03 L335.64,38.89 L335.90,38.74 L336.16,38.60 L336.42,38.46 L336.68,38.32 L336.94,38.18 L337.20,38.04 L337.46,37.90 L337.72,37.76 L337.98,37.62 L338.23,37.49 L338.49,37.35 L338.75,37.22 L339.01,37.08 L339.27,36.95 L339.53,36.82 L339.79,36.68 L340.05,36.55 L340.31,36.42 L340.57,36.29 L340.82,36.16 L341.08,36.03 L341.34,35.90 L341.60,35.78 L341.86,35.65 L342.12,35.52 L342.38,35.40 L342.64,35.27 L342.90,35.15 L343.16,35.02 L343.41,34.90 L343.67,34.78 L343.93,34.66 L344.19,34.53 L344.45,34.41 L344.71,34.29 L344.97,34.17 L345.23,34.05 L345.49,33.93 L345.75,33.82 L346.01,33.70 L346.26,33.58 L346.52,33.46 L346.78,33.35 L347.04,33.23 L347.30,33.11 L347.56,33.00 L347.82,32.89 L348.08,32.77 L348.34,32.66 L348.60,32.55 L348.85,32.44 L349.11,32.32 L349.37,32.21 L349.63,32.11 L349.89,32.00 L350.15,31.89 L350.41,31.78 L350.67,31.68 L350.93,31.57 L351.19,31.47 L351.44,31.37 L351.70,31.26 L351.96,31.16 L352.22,31.06 L352.48,30.96 L352.74,30.87 L353.00,30.77 L353.26,30.68 L353.52,30.58 L353.78,30.49 L354.03,30.40 L354.29,30.31 L354.55,30.22 L354.81,30.13 L355.07,30.04 L355.33,29.96 L355.59,29.87 L355.85,29.79 L356.11,29.71 L356.37,29.63 L356.63,29.55 L356.88,29.47 L357.14,29.40 L357.40,29.32 L357.66,29.25 L357.92,29.17 L358.18,29.10 L358.44,29.03 L358.70,28.96 L358.96,28.89 L359.22,28.82 L359.47,28.75 L359.73,28.68 L359.99,28.62 L360.25,28.55 L360.51,28.49 L360.77,28.42 L361.03,28.36 L361.29,28.29 L361.55,28.23 L361.81,28.17 L362.06,28.11 L362.32,28.05 L362.58,27.99 L362.84,27.93 L363.10,27.87 L363.36,27.81 L363.62,27.75 L363.88,27.69 L364.14,27.63 L364.40,27.58 L364.66,27.52 L364.91,27.46 L365.17,27.40 L365.43,27.35 L365.69,27.29 L365.95,27.23 L366.21,27.17 L366.47,27.12 L366.73,27.06 L366.99,27.00 L367.25,26.95 L367.50,26.89 L367.76,26.83 L368.02,26.77 L368.28,26.72 L368.54,26.66 L368.80,26.60 L369.06,26.54 L369.32,26.49 L369.58,26.43 L369.84,26.37 L370.09,26.31 L370.35,26.26 L370.61,26.20 L370.87,26.14 L371.13,26.08 L371.39,26.02 L371.65,25.97 L371.91,25.91 L372.17,25.85 L372.43,25.79 L372.69,25.74 L372.94,25.68 L373.20,25.62 L373.46,25.56 L373.72,25.50 L373.98,25.45 L374.24,25.39 L374.50,25.33 L374.76,25.27 L375.02,25.22 L375.28,25.16 L375.53,25.10 L375.79,25.04 L376.05,24.99 L376.31,24.93 L376.57,24.87 L376.83,24.81 L377.09,24.76 L377.35,24.70 L377.61,24.64 L377.87,24.59 L378.12,24.53 L378.38,24.47 L378.64,24.42 L378.90,24.36 L379.16,24.30 L379.42,24.25 L379.68,24.19 L379.94,24.13 L380.20,24.08 L380.46,24.02 L380.72,23.97 L380.97,23.91 L381.23,23.86 L381.49,23.80 L381.75,23.74 L382.01,23.69 L382.27,23.63 L382.53,23.58 L382.79,23.52 L383.05,23.47 L383.31,23.42 L383.56,23.36 L383.82,23.31 L384.08,23.25 L384.34,23.20 L384.60,23.15 L384.86,23.09 L385.12,23.04 L385.38,22.99 L385.64,22.93 L385.90,22.88 L386.15,22.83 L386.41,22.78 L386.67,22.72 L386.93,22.67 L387.19,22.62 L387.45,22.57 L387.71,22.52 L387.97,22.47 L388.23,22.42 L388.49,22.37 L388.74,22.32 L389.00,22.27 L389.26,22.22 L389.52,22.17 L389.78,22.12 L390.04,22.07 L390.30,22.02 L390.56,21.97 L390.82,21.93 L391.08,21.88 L391.34,21.83 L391.59,21.78 L391.85,21.74 L392.11,21.69 L392.37,21.64 L392.63,21.60 L392.89,21.55 L393.15,21.50 L393.41,21.46 L393.67,21.41 L393.93,21.37 L394.18,21.33 L394.44,21.28 L394.70,21.24 L394.96,21.20 L395.22,21.15 L395.48,21.11 L395.74,21.07 L396.00,21.03 L396.26,20.98 L396.52,20.94 L396.77,20.90 L397.03,20.86 L397.29,20.82 L397.55,20.78 L397.81,20.74 L398.07,20.70 L398.33,20.66 L398.59,20.63 L398.85,20.59 L399.11,20.55 L399.37,20.51 L399.62,20.48 L399.88,20.44 L400.14,20.40 L400.40,20.37 L400.66,20.33 L400.92,20.30 L401.18,20.27 L401.44,20.23 L401.70,20.20 L401.96,20.17 L402.21,20.13 L402.47,20.10 L402.73,20.07 L402.99,20.04 L403.25,20.01 L403.51,19.98 L403.77,19.95 L404.03,19.92 L404.29,19.89 L404.55,19.86 L404.80,19.83 L405.06,19.80 L405.32,19.78 L405.58,19.75 L405.84,19.73 L406.10,19.70" fill="none" stroke="#f00" stroke-width="1.45" stroke-dasharray="3.4,1.4" stroke-linejoin="round" />
<path d="M328.90,34.10 L329.16,33.93 L329.42,33.77 L329.67,33.61 L329.93,33.45 L330.19,33.29 L330.45,33.13 L330.71,32.98 L330.97,32.83 L331.22,32.68 L331.48,32.53 L331.74,32.38 L332.00,32.24 L332.26,32.10 L332.51,31.96 L332.77,31.82 L333.03,31.68 L333.29,31.54 L333.55,31.41 L333.81,31.28 L334.06,31.15 L334.32,31.02 L334.58,30.89 L334.84,30.76 L335.10,30.64 L335.35,30.52 L335.61,30.39 L335.87,30.27 L336.13,30.15 L336.39,30.04 L336.65,29.92 L336.90,29.81 L337.16,29.69 L337.42,29.58 L337.68,29.47 L337.94,29.36 L338.19,29.25 L338.45,29.14 L338.71,29.03 L338.97,28.93 L339.23,28.82 L339.49,28.72 L339.74,28.62 L340.00,28.52 L340.26,28.42 L340.52,28.32 L340.78,28.22 L341.04,28.12 L341.29,28.02 L341.55,27.93 L341.81,27.83 L342.07,27.73 L342.33,27.64 L342.58,27.55 L342.84,27.45 L343.10,27.36 L343.36,27.27 L343.62,27.18 L343.88,27.09 L344.13,27.00 L344.39,26.91 L344.65,26.82 L344.91,26.73 L345.17,26.65 L345.42,26.56 L345.68,26.47 L345.94,26.38 L346.20,26.30 L346.46,26.21 L346.72,26.13 L346.97,26.04 L347.23,25.96 L347.49,25.87 L347.75,25.79 L348.01,25.71 L348.26,25.62 L348.52,25.54 L348.78,25.46 L349.04,25.38 L349.30,25.30 L349.56,25.22 L349.81,25.14 L350.07,25.06 L350.33,24.98 L350.59,24.90 L350.85,24.82 L351.10,24.75 L351.36,24.67 L351.62,24.60 L351.88,24.52 L352.14,24.45 L352.40,24.37 L352.65,24.30 L352.91,24.23 L353.17,24.16 L353.43,24.09 L353.69,24.02 L353.94,23.95 L354.20,23.88 L354.46,23.81 L354.72,23.75 L354.98,23.68 L355.24,23.61 L355.49,23.55 L355.75,23.49 L356.01,23.42 L356.27,23.36 L356.53,23.30 L356.78,23.24 L357.04,23.18 L357.30,23.12 L357.56,23.06 L357.82,23.00 L358.08,22.94 L358.33,22.89 L358.59,22.83 L358.85,22.77 L359.11,22.72 L359.37,22.66 L359.63,22.61 L359.88,22.56 L360.14,22.50 L360.40,22.45 L360.66,22.40 L360.92,22.34 L361.17,22.29 L361.43,22.24 L361.69,22.19 L361.95,22.14 L362.21,22.09 L362.47,22.04 L362.72,21.99 L362.98,21.94 L363.24,21.89 L363.50,21.84 L363.76,21.79 L364.01,21.75 L364.27,21.70 L364.53,21.65 L364.79,21.60 L365.05,21.56 L365.31,21.51 L365.56,21.46 L365.82,21.41 L366.08,21.37 L366.34,21.32 L366.60,21.27 L366.85,21.23 L367.11,21.18 L367.37,21.13 L367.63,21.09 L367.89,21.04 L368.15,20.99 L368.40,20.95 L368.66,20.90 L368.92,20.85 L369.18,20.81 L369.44,20.76 L369.69,20.72 L369.95,20.67 L370.21,20.62 L370.47,20.58 L370.73,20.53 L370.99,20.48 L371.24,20.44 L371.50,20.39 L371.76,20.35 L372.02,20.30 L372.28,20.26 L372.53,20.21 L372.79,20.17 L373.05,20.12 L373.31,20.07 L373.57,20.03 L373.83,19.98 L374.08,19.94 L374.34,19.89 L374.60,19.85 L374.86,19.80 L375.12,19.76 L375.37,19.72 L375.63,19.67 L375.89,19.63 L376.15,19.58 L376.41,19.54 L376.67,19.49 L376.92,19.45 L377.18,19.41 L377.44,19.36 L377.70,19.32 L377.96,19.28 L378.22,19.23 L378.47,19.19 L378.73,19.15 L378.99,19.10 L379.25,19.06 L379.51,19.02 L379.76,18.97 L380.02,18.93 L380.28,18.89 L380.54,18.85 L380.80,18.81 L381.06,18.76 L381.31,18.72 L381.57,18.68 L381.83,18.64 L382.09,18.60 L382.35,18.56 L382.60,18.52 L382.86,18.48 L383.12,18.43 L383.38,18.39 L383.64,18.35 L383.90,18.31 L384.15,18.27 L384.41,18.23 L384.67,18.19 L384.93,18.15 L385.19,18.12 L385.44,18.08 L385.70,18.04 L385.96,18.00 L386.22,17.96 L386.48,17.92 L386.74,17.88 L386.99,17.84 L387.25,17.81 L387.51,17.77 L387.77,17.73 L388.03,17.69 L388.28,17.66 L388.54,17.62 L388.80,17.58 L389.06,17.55 L389.32,17.51 L389.58,17.48 L389.83,17.44 L390.09,17.40 L390.35,17.37 L390.61,17.33 L390.87,17.30 L391.12,17.26 L391.38,17.23 L391.64,17.19 L391.90,17.16 L392.16,17.13 L392.42,17.09 L392.67,17.06 L392.93,17.03 L393.19,16.99 L393.45,16.96 L393.71,16.93 L393.96,16.90 L394.22,16.87 L394.48,16.83 L394.74,16.80 L395.00,16.77 L395.26,16.74 L395.51,16.71 L395.77,16.68 L396.03,16.65 L396.29,16.62 L396.55,16.59 L396.81,16.56 L397.06,16.53 L397.32,16.50 L397.58,16.47 L397.84,16.45 L398.10,16.42 L398.35,16.39 L398.61,16.36 L398.87,16.34 L399.13,16.31 L399.39,16.28 L399.65,16.26 L399.90,16.23 L400.16,16.20 L400.42,16.18 L400.68,16.15 L400.94,16.13 L401.19,16.10 L401.45,16.08 L401.71,16.06 L401.97,16.03 L402.23,16.01 L402.49,15.99 L402.74,15.96 L403.00,15.94 L403.26,15.92 L403.52,15.90 L403.78,15.88 L404.03,15.86 L404.29,15.84 L404.55,15.82 L404.81,15.80 L405.07,15.78 L405.33,15.76 L405.58,15.74 L405.84,15.72 L406.10,15.70" fill="none" stroke="#00f" stroke-width="1.45" stroke-dasharray="3.4,1.4" stroke-linejoin="round" />
<rect x="252.5" y="6.9" width="153.85000000000002" height="107.94999999999999" fill="none" stroke="#2a2a2a" stroke-width="1.1"/>
<path d="M252.50,114.85v-2.2M252.50,6.9v2.2M290.96,114.85v-2.2M290.96,6.9v2.2M329.42,114.85v-2.2M329.42,6.9v2.2M367.88,114.85v-2.2M367.88,6.9v2.2M406.34,114.85v-2.2M406.34,6.9v2.2M260.19,114.85v-1.3M260.19,6.9v1.3M267.88,114.85v-1.3M267.88,6.9v1.3M275.58,114.85v-1.3M275.58,6.9v1.3M283.27,114.85v-1.3M283.27,6.9v1.3M298.65,114.85v-1.3M298.65,6.9v1.3M306.34,114.85v-1.3M306.34,6.9v1.3M314.04,114.85v-1.3M314.04,6.9v1.3M321.73,114.85v-1.3M321.73,6.9v1.3M337.11,114.85v-1.3M337.11,6.9v1.3M344.80,114.85v-1.3M344.80,6.9v1.3M352.50,114.85v-1.3M352.50,6.9v1.3M360.19,114.85v-1.3M360.19,6.9v1.3M375.57,114.85v-1.3M375.57,6.9v1.3M383.26,114.85v-1.3M383.26,6.9v1.3M390.96,114.85v-1.3M390.96,6.9v1.3M398.65,114.85v-1.3M398.65,6.9v1.3M252.5,114.90h2.2M406.35,114.90h-2.2M252.5,93.30h2.2M406.35,93.30h-2.2M252.5,71.70h2.2M406.35,71.70h-2.2M252.5,50.10h2.2M406.35,50.10h-2.2M252.5,28.50h2.2M406.35,28.50h-2.2M252.5,6.90h2.2M406.35,6.90h-2.2M252.5,109.50h1.3M406.35,109.50h-1.3M252.5,104.10h1.3M406.35,104.10h-1.3M252.5,98.70h1.3M406.35,98.70h-1.3M252.5,87.90h1.3M406.35,87.90h-1.3M252.5,82.50h1.3M406.35,82.50h-1.3M252.5,77.10h1.3M406.35,77.10h-1.3M252.5,66.30h1.3M406.35,66.30h-1.3M252.5,60.90h1.3M406.35,60.90h-1.3M252.5,55.50h1.3M406.35,55.50h-1.3M252.5,44.70h1.3M406.35,44.70h-1.3M252.5,39.30h1.3M406.35,39.30h-1.3M252.5,33.90h1.3M406.35,33.90h-1.3M252.5,23.10h1.3M406.35,23.10h-1.3M252.5,17.70h1.3M406.35,17.70h-1.3M252.5,12.30h1.3M406.35,12.30h-1.3" stroke="#222" stroke-width="0.75" fill="none"/>
<text x="252.30" y="128.90" text-anchor="middle" font-size="12" letter-spacing="0.4" fill="#000" >0.0</text>
<text x="290.76" y="128.90" text-anchor="middle" font-size="12" letter-spacing="0.4" fill="#000" >0.5</text>
<text x="329.02" y="128.90" text-anchor="middle" font-size="12" fill="#000" >1.0</text>
<text x="367.48" y="128.90" text-anchor="middle" font-size="12" fill="#000" >1.5</text>
<text x="406.14" y="128.90" text-anchor="middle" font-size="12" letter-spacing="0.4" fill="#000" >2.0</text>
<text x="251.05" y="119.40" text-anchor="end" font-size="12" letter-spacing="0.45" fill="#000" >0.0</text>
<text x="251.05" y="97.80" text-anchor="end" font-size="12" letter-spacing="0.45" fill="#000" >0.2</text>
<text x="251.05" y="76.20" text-anchor="end" font-size="12" letter-spacing="0.45" fill="#000" >0.4</text>
<text x="251.05" y="54.60" text-anchor="end" font-size="12" letter-spacing="0.45" fill="#000" >0.6</text>
<text x="251.05" y="33.00" text-anchor="end" font-size="12" letter-spacing="0.45" fill="#000" >0.8</text>
<text x="250.65" y="11.40" text-anchor="end" font-size="12" letter-spacing="0.04999999999999999" fill="#000" >1.0</text>
<text x="260.40" y="22.60" text-anchor="start" font-size="12.5" fill="#000" >(b)</text>
<text x="313.60" y="54.40" text-anchor="start" font-size="11.3" fill="#00f" >3d</text>
<text x="353.00" y="46.70" text-anchor="start" font-size="11.3" fill="#f00" >2d</text>
<text x="385.70" y="43.80" text-anchor="start" font-size="11.3" fill="#000" >1d</text>
<g transform="translate(225.5,70.5) rotate(-90)" font-size="12" fill="#000">
<text x="0" y="0" font-size="12" font-style="italic">P</text>
<text x="8.2" y="3.0" font-size="9">sat</text>
</g>
<text x="305.6" y="147.7" font-size="12" fill="#000" letter-spacing="0"><tspan font-style="italic">U</tspan><tspan font-size="9" dy="2.0">BF</tspan><tspan dy="-2.0">/2</tspan><tspan font-style="italic">dJ</tspan><tspan font-size="9" dy="2.0">F</tspan></text>
<path d="M45.00,168.40 L45.51,168.78 L46.02,169.16 L46.53,169.55 L47.04,169.93 L47.55,170.31 L48.05,170.69 L48.56,171.07 L49.07,171.45 L49.58,171.84 L50.09,172.22 L50.60,172.60 L51.11,172.98 L51.62,173.36 L52.13,173.74 L52.64,174.12 L53.14,174.50 L53.65,174.88 L54.16,175.26 L54.67,175.64 L55.18,176.02 L55.69,176.40 L56.20,176.78 L56.71,177.15 L57.22,177.53 L57.73,177.91 L58.23,178.29 L58.74,178.66 L59.25,179.04 L59.76,179.42 L60.27,179.79 L60.78,180.17 L61.29,180.54 L61.80,180.92 L62.31,181.30 L62.82,181.67 L63.33,182.05 L63.83,182.42 L64.34,182.80 L64.85,183.18 L65.36,183.56 L65.87,183.93 L66.38,184.31 L66.89,184.69 L67.40,185.07 L67.91,185.45 L68.42,185.83 L68.92,186.21 L69.43,186.59 L69.94,186.97 L70.45,187.35 L70.96,187.73 L71.47,188.11 L71.98,188.49 L72.49,188.87 L73.00,189.25 L73.51,189.63 L74.01,190.01 L74.52,190.40 L75.03,190.78 L75.54,191.17 L76.05,191.55 L76.56,191.94 L77.07,192.33 L77.58,192.72 L78.09,193.12 L78.60,193.51 L79.11,193.91 L79.61,194.31 L80.12,194.71 L80.63,195.12 L81.14,195.53 L81.65,195.95 L82.16,196.36 L82.67,196.78 L83.18,197.21 L83.69,197.63 L84.20,198.06 L84.70,198.49 L85.21,198.92 L85.72,199.35 L86.23,199.78 L86.74,200.21 L87.25,200.64 L87.76,201.07 L88.27,201.50 L88.78,201.93 L89.29,202.36 L89.79,202.79 L90.30,203.21 L90.81,203.64 L91.32,204.06 L91.83,204.48 L92.34,204.89 L92.85,205.30 L93.36,205.71 L93.87,206.12 L94.38,206.52 L94.88,206.91 L95.39,207.30 L95.90,207.69 L96.41,208.07 L96.92,208.45 L97.43,208.82 L97.94,209.20 L98.45,209.57 L98.96,209.93 L99.47,210.30 L99.98,210.66 L100.48,211.03 L100.99,211.39 L101.50,211.76 L102.01,212.12 L102.52,212.49 L103.03,212.85 L103.54,213.22 L104.05,213.59 L104.56,213.97 L105.07,214.34 L105.57,214.72 L106.08,215.11 L106.59,215.49 L107.10,215.88 L107.61,216.26 L108.12,216.65 L108.63,217.04 L109.14,217.42 L109.65,217.81 L110.16,218.20 L110.66,218.58 L111.17,218.96 L111.68,219.34 L112.19,219.72 L112.70,220.10 L113.21,220.47 L113.72,220.84 L114.23,221.20 L114.74,221.56 L115.25,221.92 L115.76,222.27 L116.26,222.62 L116.77,222.97 L117.28,223.32 L117.79,223.67 L118.30,224.02 L118.81,224.36 L119.32,224.70 L119.83,225.04 L120.34,225.38 L120.85,225.71 L121.35,226.05 L121.86,226.38 L122.37,226.71 L122.88,227.04 L123.39,227.37 L123.90,227.70 L124.41,228.03 L124.92,228.35 L125.43,228.67 L125.94,228.99 L126.44,229.30 L126.95,229.62 L127.46,229.93 L127.97,230.24 L128.48,230.55 L128.99,230.86 L129.50,231.17 L130.01,231.48 L130.52,231.79 L131.03,232.09 L131.54,232.40 L132.04,232.70 L132.55,233.01 L133.06,233.31 L133.57,233.62 L134.08,233.92 L134.59,234.23 L135.10,234.54 L135.61,234.85 L136.12,235.15 L136.63,235.46 L137.13,235.78 L137.64,236.09 L138.15,236.40 L138.66,236.71 L139.17,237.02 L139.68,237.33 L140.19,237.64 L140.70,237.95 L141.21,238.26 L141.72,238.58 L142.22,238.89 L142.73,239.20 L143.24,239.51 L143.75,239.82 L144.26,240.13 L144.77,240.45 L145.28,240.76 L145.79,241.08 L146.30,241.40 L146.81,241.71 L147.32,242.03 L147.82,242.36 L148.33,242.68 L148.84,243.01 L149.35,243.33 L149.86,243.66 L150.37,244.00 L150.88,244.33 L151.39,244.67 L151.90,245.01 L152.41,245.36 L152.91,245.70 L153.42,246.05 L153.93,246.40 L154.44,246.75 L154.95,247.09 L155.46,247.44 L155.97,247.79 L156.48,248.14 L156.99,248.49 L157.50,248.83 L158.00,249.17 L158.51,249.52 L159.02,249.86 L159.53,250.19 L160.04,250.53 L160.55,250.86 L161.06,251.19 L161.57,251.52 L162.08,251.85 L162.59,252.17 L163.09,252.50 L163.60,252.82 L164.11,253.15 L164.62,253.47 L165.13,253.79 L165.64,254.11 L166.15,254.43 L166.66,254.75 L167.17,255.07 L167.68,255.39 L168.19,255.71 L168.69,256.03 L169.20,256.35 L169.71,256.67 L170.22,256.99 L170.73,257.31 L171.24,257.63 L171.75,257.95 L172.26,258.27 L172.77,258.58 L173.28,258.90 L173.78,259.22 L174.29,259.53 L174.80,259.85 L175.31,260.17 L175.82,260.48 L176.33,260.79 L176.84,261.11 L177.35,261.42 L177.86,261.73 L178.37,262.04 L178.87,262.34 L179.38,262.65 L179.89,262.96 L180.40,263.26 L180.91,263.56 L181.42,263.86 L181.93,264.17 L182.44,264.47 L182.95,264.76 L183.46,265.06 L183.97,265.36 L184.47,265.66 L184.98,265.95 L185.49,266.25 L186.00,266.54 L186.51,266.83 L187.02,267.13 L187.53,267.42 L188.04,267.71 L188.55,268.00 L189.06,268.29 L189.56,268.58 L190.07,268.86 L190.58,269.15 L191.09,269.44 L191.60,269.72 L192.11,270.01 L192.62,270.29 L193.13,270.57 L193.64,270.85 L194.15,271.13 L194.65,271.41 L195.16,271.69 L195.67,271.97 L196.18,272.25 L196.69,272.52 L197.20,272.80" fill="none" stroke="#000" stroke-width="1.25" stroke-dasharray="3.8,1.9" stroke-linejoin="round" />
<path d="M45.00,168.40 L45.25,168.68 L45.51,169.02 L45.76,169.41 L46.02,169.84 L46.27,170.31 L46.52,170.82 L46.78,171.36 L47.03,171.92 L47.29,172.50 L47.54,173.10 L47.79,173.70 L48.05,174.32 L48.30,174.93 L48.56,175.53 L48.81,176.13 L49.07,176.72 L49.32,177.28 L49.57,177.82 L49.83,178.33 L50.08,178.80 L50.34,179.24 L50.59,179.63 L50.84,179.98 L51.10,180.28 L51.35,180.53 L51.61,180.74 L51.86,180.90 L52.11,181.01 L52.37,181.08 L52.62,181.11 L52.88,181.09 L53.13,181.03 L53.38,180.93 L53.64,180.78 L53.89,180.61 L54.15,180.40 L54.40,180.16 L54.66,179.90 L54.91,179.61 L55.16,179.30 L55.42,178.97 L55.67,178.62 L55.93,178.27 L56.18,177.91 L56.43,177.55 L56.69,177.19 L56.94,176.83 L57.20,176.49 L57.45,176.15 L57.70,175.84 L57.96,175.55 L58.21,175.28 L58.47,175.04 L58.72,174.82 L58.97,174.64 L59.23,174.49 L59.48,174.38 L59.74,174.30 L59.99,174.26 L60.25,174.26 L60.50,174.30 L60.75,174.38 L61.01,174.51 L61.26,174.68 L61.52,174.89 L61.77,175.15 L62.02,175.45 L62.28,175.79 L62.53,176.18 L62.79,176.61 L63.04,177.08 L63.29,177.59 L63.55,178.14 L63.80,178.71 L64.06,179.30 L64.31,179.89 L64.56,180.48 L64.82,181.06 L65.07,181.62 L65.33,182.16 L65.58,182.65 L65.84,183.11 L66.09,183.52 L66.34,183.90 L66.60,184.24 L66.85,184.54 L67.11,184.81 L67.36,185.05 L67.61,185.26 L67.87,185.45 L68.12,185.61 L68.38,185.74 L68.63,185.86 L68.88,185.95 L69.14,186.03 L69.39,186.10 L69.65,186.15 L69.90,186.19 L70.15,186.22 L70.41,186.24 L70.66,186.26 L70.92,186.27 L71.17,186.28 L71.43,186.29 L71.68,186.29 L71.93,186.30 L72.19,186.30 L72.44,186.30 L72.70,186.31 L72.95,186.32 L73.20,186.34 L73.46,186.36 L73.71,186.39 L73.97,186.42 L74.22,186.47 L74.47,186.52 L74.73,186.58 L74.98,186.66 L75.24,186.74 L75.49,186.83 L75.74,186.93 L76.00,187.04 L76.25,187.17 L76.51,187.30 L76.76,187.45 L77.02,187.61 L77.27,187.78 L77.52,187.96 L77.78,188.15 L78.03,188.35 L78.29,188.56 L78.54,188.78 L78.79,188.99 L79.05,189.21 L79.30,189.44 L79.56,189.66 L79.81,189.89 L80.06,190.11 L80.32,190.33 L80.57,190.55 L80.83,190.77 L81.08,190.99 L81.33,191.22 L81.59,191.44 L81.84,191.66 L82.10,191.88 L82.35,192.10 L82.61,192.32 L82.86,192.54 L83.11,192.76 L83.37,192.98 L83.62,193.20 L83.88,193.42 L84.13,193.64 L84.38,193.86 L84.64,194.08 L84.89,194.31 L85.15,194.53 L85.40,194.75 L85.65,194.98 L85.91,195.20 L86.16,195.43 L86.42,195.65 L86.67,195.88 L86.92,196.11 L87.18,196.33 L87.43,196.56 L87.69,196.78 L87.94,197.01 L88.20,197.23 L88.45,197.46 L88.70,197.68 L88.96,197.90 L89.21,198.13 L89.47,198.35 L89.72,198.57 L89.97,198.79 L90.23,199.01 L90.48,199.23 L90.74,199.44 L90.99,199.66 L91.24,199.87 L91.50,200.08 L91.75,200.29 L92.01,200.50 L92.26,200.71 L92.51,200.91 L92.77,201.12 L93.02,201.32 L93.28,201.52 L93.53,201.71 L93.79,201.91 L94.04,202.10 L94.29,202.29 L94.55,202.47 L94.80,202.66 L95.06,202.84 L95.31,203.02 L95.56,203.19 L95.82,203.37 L96.07,203.54 L96.33,203.71 L96.58,203.87 L96.83,204.04 L97.09,204.20 L97.34,204.36 L97.60,204.52 L97.85,204.68 L98.10,204.84 L98.36,205.00 L98.61,205.15 L98.87,205.31 L99.12,205.46 L99.38,205.62 L99.63,205.77 L99.88,205.93 L100.14,206.08 L100.39,206.24 L100.65,206.40 L100.90,206.56 L101.15,206.72 L101.41,206.88 L101.66,207.04 L101.92,207.21 L102.17,207.38 L102.42,207.55 L102.68,207.72 L102.93,207.90 L103.19,208.09 L103.44,208.28 L103.69,208.47 L103.95,208.67 L104.20,208.87 L104.46,209.08 L104.71,209.29 L104.97,209.52 L105.22,209.74 L105.47,209.98 L105.73,210.21 L105.98,210.45 L106.24,210.70 L106.49,210.95 L106.74,211.20 L107.00,211.45 L107.25,211.71 L107.51,211.97 L107.76,212.23 L108.01,212.49 L108.27,212.75 L108.52,213.01 L108.78,213.27 L109.03,213.53 L109.28,213.79 L109.54,214.05 L109.79,214.30 L110.05,214.56 L110.30,214.81 L110.56,215.06 L110.81,215.30 L111.06,215.55 L111.32,215.79 L111.57,216.03 L111.83,216.26 L112.08,216.49 L112.33,216.72 L112.59,216.94 L112.84,217.15 L113.10,217.37 L113.35,217.57 L113.60,217.78 L113.86,217.97 L114.11,218.16 L114.37,218.35 L114.62,218.53 L114.87,218.70 L115.13,218.87 L115.38,219.03 L115.64,219.19 L115.89,219.34 L116.15,219.49 L116.40,219.64 L116.65,219.78 L116.91,219.92 L117.16,220.05 L117.42,220.19 L117.67,220.32 L117.92,220.45 L118.18,220.58 L118.43,220.71 L118.69,220.84 L118.94,220.97 L119.19,221.10 L119.45,221.23 L119.70,221.36 L119.96,221.49 L120.21,221.62 L120.46,221.76 L120.72,221.89 L120.97,222.03 L121.23,222.17 L121.48,222.32 L121.74,222.46 L121.99,222.62 L122.24,222.77 L122.50,222.93 L122.75,223.09 L123.01,223.26 L123.26,223.44 L123.51,223.62 L123.77,223.80 L124.02,223.99 L124.28,224.19 L124.53,224.39 L124.78,224.60 L125.04,224.81 L125.29,225.03 L125.55,225.25 L125.80,225.48 L126.05,225.70 L126.31,225.93 L126.56,226.17 L126.82,226.40 L127.07,226.64 L127.33,226.87 L127.58,227.11 L127.83,227.35 L128.09,227.58 L128.34,227.82 L128.60,228.05 L128.85,228.28 L129.10,228.51 L129.36,228.74 L129.61,228.96 L129.87,229.19 L130.12,229.40 L130.37,229.61 L130.63,229.82 L130.88,230.03 L131.14,230.23 L131.39,230.43 L131.64,230.62 L131.90,230.82 L132.15,231.01 L132.41,231.19 L132.66,231.38 L132.92,231.56 L133.17,231.74 L133.42,231.91 L133.68,232.09 L133.93,232.26 L134.19,232.43 L134.44,232.60 L134.69,232.77 L134.95,232.94 L135.20,233.11 L135.46,233.27 L135.71,233.44 L135.96,233.60 L136.22,233.77 L136.47,233.93 L136.73,234.10 L136.98,234.26 L137.23,234.43 L137.49,234.59 L137.74,234.76 L138.00,234.93 L138.25,235.09 L138.51,235.26 L138.76,235.43 L139.01,235.60 L139.27,235.77 L139.52,235.94 L139.78,236.12 L140.03,236.29 L140.28,236.46 L140.54,236.63 L140.79,236.81 L141.05,236.98 L141.30,237.16 L141.55,237.33 L141.81,237.51 L142.06,237.69 L142.32,237.86 L142.57,238.04 L142.82,238.22 L143.08,238.40 L143.33,238.58 L143.59,238.76 L143.84,238.94 L144.10,239.12 L144.35,239.30 L144.60,239.48 L144.86,239.66 L145.11,239.85 L145.37,240.03 L145.62,240.21 L145.87,240.40 L146.13,240.58 L146.38,240.76 L146.64,240.95 L146.89,241.13 L147.14,241.32 L147.40,241.50 L147.65,241.69 L147.91,241.88 L148.16,242.06 L148.41,242.25 L148.67,242.44 L148.92,242.62 L149.18,242.81 L149.43,243.00 L149.69,243.18 L149.94,243.37 L150.19,243.56 L150.45,243.75 L150.70,243.94 L150.96,244.12 L151.21,244.31 L151.46,244.50 L151.72,244.69 L151.97,244.88 L152.23,245.07 L152.48,245.26 L152.73,245.45 L152.99,245.63 L153.24,245.82 L153.50,246.01 L153.75,246.20 L154.00,246.39 L154.26,246.58 L154.51,246.77 L154.77,246.96 L155.02,247.14 L155.28,247.33 L155.53,247.52 L155.78,247.71 L156.04,247.90 L156.29,248.09 L156.55,248.27 L156.80,248.46 L157.05,248.65 L157.31,248.83 L157.56,249.02 L157.82,249.21 L158.07,249.39 L158.32,249.58 L158.58,249.77 L158.83,249.95 L159.09,250.14 L159.34,250.32 L159.59,250.51 L159.85,250.69 L160.10,250.87 L160.36,251.06 L160.61,251.24 L160.87,251.42 L161.12,251.61 L161.37,251.79 L161.63,251.97 L161.88,252.15 L162.14,252.33 L162.39,252.51 L162.64,252.70 L162.90,252.88 L163.15,253.06 L163.41,253.24 L163.66,253.42 L163.91,253.60 L164.17,253.78 L164.42,253.96 L164.68,254.14 L164.93,254.32 L165.18,254.51 L165.44,254.69 L165.69,254.87 L165.95,255.05 L166.20,255.23 L166.46,255.41 L166.71,255.60 L166.96,255.78 L167.22,255.96 L167.47,256.15 L167.73,256.33 L167.98,256.51 L168.23,256.70 L168.49,256.88 L168.74,257.07 L169.00,257.25 L169.25,257.44 L169.50,257.62 L169.76,257.81 L170.01,258.00 L170.27,258.18 L170.52,258.37 L170.77,258.55 L171.03,258.74 L171.28,258.93 L171.54,259.11 L171.79,259.30 L172.05,259.48 L172.30,259.67 L172.55,259.85 L172.81,260.04 L173.06,260.22 L173.32,260.40 L173.57,260.59 L173.82,260.77 L174.08,260.95 L174.33,261.13 L174.59,261.31 L174.84,261.49 L175.09,261.67 L175.35,261.84 L175.60,262.02 L175.86,262.20 L176.11,262.37 L176.36,262.55 L176.62,262.73 L176.87,262.91 L177.13,263.09 L177.38,263.28 L177.64,263.46 L177.89,263.65 L178.14,263.84 L178.40,264.03 L178.65,264.23 L178.91,264.43 L179.16,264.64 L179.41,264.85 L179.67,265.07 L179.92,265.29 L180.18,265.51 L180.43,265.75 L180.68,265.98 L180.94,266.23 L181.19,266.48 L181.45,266.74 L181.70,266.99 L181.95,267.25 L182.21,267.51 L182.46,267.77 L182.72,268.03 L182.97,268.28 L183.23,268.54 L183.48,268.78 L183.73,269.02 L183.99,269.25 L184.24,269.47 L184.50,269.68 L184.75,269.89 L185.00,270.08 L185.26,270.26 L185.51,270.42 L185.77,270.57 L186.02,270.71 L186.27,270.83 L186.53,270.94 L186.78,271.03 L187.04,271.12 L187.29,271.19 L187.54,271.25 L187.80,271.31 L188.05,271.36 L188.31,271.40 L188.56,271.44 L188.82,271.47 L189.07,271.51 L189.32,271.54 L189.58,271.58 L189.83,271.61 L190.09,271.65 L190.34,271.69 L190.59,271.73 L190.85,271.78 L191.10,271.83 L191.36,271.89 L191.61,271.95 L191.86,272.02 L192.12,272.09 L192.37,272.18 L192.63,272.27 L192.88,272.36 L193.13,272.46 L193.39,272.57 L193.64,272.68 L193.90,272.80 L194.15,272.92 L194.41,273.05 L194.66,273.18 L194.91,273.32 L195.17,273.46 L195.42,273.61 L195.68,273.75 L195.93,273.90 L196.18,274.06 L196.44,274.22 L196.69,274.37 L196.95,274.54 L197.20,274.70" fill="none" stroke="#000" stroke-width="1.25" stroke-linejoin="round" />
<path d="M45.20,168.40 L45.58,168.69 L45.96,168.98 L46.34,169.26 L46.72,169.55 L47.11,169.83 L47.49,170.11 L47.87,170.40 L48.25,170.68 L48.63,170.97 L49.01,171.25 L49.39,171.54 L49.77,171.83 L50.16,172.12 L50.54,172.41 L50.92,172.71 L51.30,173.00 L51.68,173.31 L52.06,173.61 L52.44,173.92 L52.82,174.23 L53.21,174.55 L53.59,174.87 L53.97,175.19 L54.35,175.52 L54.73,175.86 L55.11,176.20 L55.49,176.55 L55.87,176.90 L56.25,177.26 L56.64,177.63 L57.02,178.01 L57.40,178.39 L57.78,178.77 L58.16,179.16 L58.54,179.56 L58.92,179.95 L59.30,180.35 L59.69,180.74 L60.07,181.14 L60.45,181.53 L60.83,181.93 L61.21,182.32 L61.59,182.70 L61.97,183.08 L62.35,183.45 L62.74,183.81 L63.12,184.17 L63.50,184.52 L63.88,184.86 L64.26,185.18 L64.64,185.50 L65.02,185.81 L65.40,186.10 L65.78,186.39 L66.17,186.67 L66.55,186.94 L66.93,187.19 L67.31,187.44 L67.69,187.68 L68.07,187.91 L68.45,188.14 L68.83,188.35 L69.22,188.55 L69.60,188.75 L69.98,188.94 L70.36,189.12 L70.74,189.29 L71.12,189.45 L71.50,189.60 L71.88,189.74 L72.27,189.87 L72.65,189.99 L73.03,190.10 L73.41,190.20 L73.79,190.28 L74.17,190.36 L74.55,190.42 L74.93,190.47 L75.32,190.51 L75.70,190.53 L76.08,190.55 L76.46,190.55 L76.84,190.54 L77.22,190.52 L77.60,190.50 L77.98,190.46 L78.36,190.42 L78.75,190.37 L79.13,190.31 L79.51,190.25 L79.89,190.19 L80.27,190.12 L80.65,190.05 L81.03,189.98 L81.41,189.91 L81.80,189.83 L82.18,189.76 L82.56,189.69 L82.94,189.62 L83.32,189.55 L83.70,189.48 L84.08,189.42 L84.46,189.36 L84.85,189.29 L85.23,189.23 L85.61,189.17 L85.99,189.11 L86.37,189.05 L86.75,188.99 L87.13,188.93 L87.51,188.87 L87.89,188.81 L88.28,188.75 L88.66,188.70 L89.04,188.64 L89.42,188.58 L89.80,188.51 L90.18,188.45 L90.56,188.39 L90.94,188.33 L91.33,188.26 L91.71,188.19 L92.09,188.13 L92.47,188.06 L92.85,187.99 L93.23,187.92 L93.61,187.84 L93.99,187.77 L94.38,187.70 L94.76,187.62 L95.14,187.55 L95.52,187.47 L95.90,187.39 L96.28,187.31 L96.66,187.24 L97.04,187.16 L97.42,187.08 L97.81,187.00 L98.19,186.92 L98.57,186.83 L98.95,186.75 L99.33,186.67 L99.71,186.59 L100.09,186.51 L100.47,186.43 L100.86,186.35 L101.24,186.26 L101.62,186.18 L102.00,186.10 L102.38,186.02 L102.76,185.94 L103.14,185.86 L103.52,185.78 L103.91,185.70 L104.29,185.62 L104.67,185.54 L105.05,185.46 L105.43,185.38 L105.81,185.30 L106.19,185.22 L106.57,185.14 L106.95,185.06 L107.34,184.99 L107.72,184.91 L108.10,184.83 L108.48,184.76 L108.86,184.68 L109.24,184.61 L109.62,184.53 L110.00,184.46 L110.39,184.39 L110.77,184.32 L111.15,184.24 L111.53,184.17 L111.91,184.10 L112.29,184.03 L112.67,183.96 L113.05,183.89 L113.44,183.82 L113.82,183.76 L114.20,183.69 L114.58,183.62 L114.96,183.56 L115.34,183.49 L115.72,183.43 L116.10,183.37 L116.48,183.31 L116.87,183.24 L117.25,183.18 L117.63,183.12 L118.01,183.07 L118.39,183.01 L118.77,182.95 L119.15,182.90 L119.53,182.84 L119.92,182.79 L120.30,182.73 L120.68,182.68 L121.06,182.63 L121.44,182.58 L121.82,182.53 L122.20,182.49 L122.58,182.44 L122.97,182.39 L123.35,182.35 L123.73,182.30 L124.11,182.26 L124.49,182.22 L124.87,182.18 L125.25,182.14 L125.63,182.10 L126.02,182.06 L126.40,182.03 L126.78,181.99 L127.16,181.95 L127.54,181.92 L127.92,181.89 L128.30,181.85 L128.68,181.82 L129.06,181.79 L129.45,181.76 L129.83,181.73 L130.21,181.70 L130.59,181.67 L130.97,181.65 L131.35,181.62 L131.73,181.59 L132.11,181.57 L132.50,181.54 L132.88,181.52 L133.26,181.50 L133.64,181.47 L134.02,181.45 L134.40,181.43 L134.78,181.41 L135.16,181.39 L135.55,181.37 L135.93,181.35 L136.31,181.34 L136.69,181.32 L137.07,181.30 L137.45,181.29 L137.83,181.27 L138.21,181.26 L138.59,181.24 L138.98,181.23 L139.36,181.22 L139.74,181.20 L140.12,181.19 L140.50,181.18 L140.88,181.17 L141.26,181.16 L141.64,181.15 L142.03,181.14 L142.41,181.14 L142.79,181.13 L143.17,181.12 L143.55,181.12 L143.93,181.11 L144.31,181.11 L144.69,181.10 L145.08,181.10 L145.46,181.10 L145.84,181.10 L146.22,181.10 L146.60,181.10 L146.98,181.10 L147.36,181.10 L147.74,181.10 L148.12,181.10 L148.51,181.11 L148.89,181.11 L149.27,181.11 L149.65,181.12 L150.03,181.13 L150.41,181.13 L150.79,181.14 L151.17,181.15 L151.56,181.16 L151.94,181.17 L152.32,181.18 L152.70,181.19 L153.08,181.21 L153.46,181.22 L153.84,181.23 L154.22,181.25 L154.61,181.27 L154.99,181.28 L155.37,181.30 L155.75,181.32 L156.13,181.34 L156.51,181.36 L156.89,181.38 L157.27,181.41 L157.65,181.43 L158.04,181.45 L158.42,181.48 L158.80,181.51 L159.18,181.54 L159.56,181.57 L159.94,181.60 L160.32,181.63 L160.70,181.66 L161.09,181.69 L161.47,181.73 L161.85,181.76 L162.23,181.80 L162.61,181.83 L162.99,181.87 L163.37,181.91 L163.75,181.95 L164.14,181.99 L164.52,182.02 L164.90,182.06 L165.28,182.10 L165.66,182.14 L166.04,182.18 L166.42,182.22 L166.80,182.26 L167.18,182.30 L167.57,182.34 L167.95,182.38 L168.33,182.42 L168.71,182.46 L169.09,182.49 L169.47,182.53 L169.85,182.57 L170.23,182.60 L170.62,182.64 L171.00,182.67 L171.38,182.71 L171.76,182.74 L172.14,182.77 L172.52,182.80 L172.90,182.84 L173.28,182.87 L173.67,182.90 L174.05,182.93 L174.43,182.95 L174.81,182.98 L175.19,183.01 L175.57,183.04 L175.95,183.07 L176.33,183.09 L176.72,183.12 L177.10,183.14 L177.48,183.17 L177.86,183.19 L178.24,183.22 L178.62,183.24 L179.00,183.26 L179.38,183.29 L179.76,183.31 L180.15,183.33 L180.53,183.36 L180.91,183.38 L181.29,183.40 L181.67,183.42 L182.05,183.44 L182.43,183.46 L182.81,183.48 L183.20,183.50 L183.58,183.52 L183.96,183.54 L184.34,183.57 L184.72,183.59 L185.10,183.61 L185.48,183.63 L185.86,183.65 L186.25,183.67 L186.63,183.68 L187.01,183.70 L187.39,183.72 L187.77,183.74 L188.15,183.76 L188.53,183.78 L188.91,183.80 L189.29,183.82 L189.68,183.85 L190.06,183.87 L190.44,183.89 L190.82,183.91 L191.20,183.93 L191.58,183.95 L191.96,183.97 L192.34,183.99 L192.73,184.01 L193.11,184.04 L193.49,184.06 L193.87,184.08 L194.25,184.10 L194.63,184.13 L195.01,184.15 L195.39,184.17 L195.78,184.20 L196.16,184.22 L196.54,184.25 L196.92,184.27 L197.30,184.30" fill="none" stroke="#f00" stroke-width="1.35" stroke-linejoin="round" />
<path d="M45.20,168.40 L45.58,168.69 L45.96,168.98 L46.34,169.26 L46.72,169.55 L47.11,169.83 L47.49,170.11 L47.87,170.40 L48.25,170.68 L48.63,170.97 L49.01,171.25 L49.39,171.54 L49.77,171.83 L50.16,172.12 L50.54,172.41 L50.92,172.71 L51.30,173.00 L51.68,173.31 L52.06,173.61 L52.44,173.92 L52.82,174.23 L53.21,174.55 L53.59,174.87 L53.97,175.19 L54.35,175.52 L54.73,175.86 L55.11,176.20 L55.49,176.55 L55.87,176.90 L56.25,177.26 L56.64,177.63 L57.02,178.01 L57.40,178.39 L57.78,178.77 L58.16,179.16 L58.54,179.56 L58.92,179.95 L59.30,180.35 L59.69,180.74 L60.07,181.14 L60.45,181.53 L60.83,181.93 L61.21,182.32 L61.59,182.70 L61.97,183.08 L62.35,183.45 L62.74,183.81 L63.12,184.17 L63.50,184.52 L63.88,184.86 L64.26,185.18 L64.64,185.50 L65.02,185.81 L65.40,186.10 L65.78,186.39 L66.17,186.67 L66.55,186.94 L66.93,187.19 L67.31,187.44 L67.69,187.68 L68.07,187.91 L68.45,188.14 L68.83,188.35 L69.22,188.55 L69.60,188.75 L69.98,188.94 L70.36,189.12 L70.74,189.29 L71.12,189.45 L71.50,189.60 L71.88,189.74 L72.27,189.87 L72.65,189.99 L73.03,190.10 L73.41,190.20 L73.79,190.28 L74.17,190.36 L74.55,190.42 L74.93,190.47 L75.32,190.51 L75.70,190.53 L76.08,190.55 L76.46,190.55 L76.84,190.54 L77.22,190.52 L77.60,190.50 L77.98,190.46 L78.36,190.42 L78.75,190.37 L79.13,190.31 L79.51,190.25 L79.89,190.19 L80.27,190.12 L80.65,190.05 L81.03,189.98 L81.41,189.91 L81.80,189.83 L82.18,189.76 L82.56,189.69 L82.94,189.62 L83.32,189.55 L83.70,189.48 L84.08,189.42 L84.46,189.36 L84.85,189.29 L85.23,189.23 L85.61,189.17 L85.99,189.11 L86.37,189.05 L86.75,188.99 L87.13,188.93 L87.51,188.87 L87.89,188.81 L88.28,188.75 L88.66,188.70 L89.04,188.64 L89.42,188.58 L89.80,188.51 L90.18,188.45 L90.56,188.39 L90.94,188.33 L91.33,188.26 L91.71,188.19 L92.09,188.13 L92.47,188.06 L92.85,187.99 L93.23,187.92 L93.61,187.84 L93.99,187.77 L94.38,187.70 L94.76,187.62 L95.14,187.55 L95.52,187.47 L95.90,187.39 L96.28,187.31 L96.66,187.24 L97.04,187.16 L97.42,187.08 L97.81,187.00 L98.19,186.92 L98.57,186.83 L98.95,186.75 L99.33,186.67 L99.71,186.59 L100.09,186.51 L100.47,186.42 L100.86,186.33 L101.24,186.24 L101.62,186.15 L102.00,186.06 L102.38,185.98 L102.76,185.89 L103.14,185.80 L103.52,185.71 L103.91,185.62 L104.29,185.54 L104.67,185.45 L105.05,185.36 L105.43,185.28 L105.81,185.19 L106.19,185.11 L106.57,185.02 L106.95,184.94 L107.34,184.85 L107.72,184.77 L108.10,184.69 L108.48,184.60 L108.86,184.52 L109.24,184.44 L109.62,184.36 L110.00,184.28 L110.39,184.20 L110.77,184.12 L111.15,184.04 L111.53,183.96 L111.91,183.88 L112.29,183.81 L112.67,183.73 L113.05,183.65 L113.44,183.58 L113.82,183.50 L114.20,183.43 L114.58,183.36 L114.96,183.28 L115.34,183.21 L115.72,183.14 L116.10,183.07 L116.48,183.00 L116.87,182.94 L117.25,182.87 L117.63,182.80 L118.01,182.74 L118.39,182.67 L118.77,182.61 L119.15,182.54 L119.53,182.48 L119.92,182.42 L120.30,182.36 L120.68,182.30 L121.06,182.25 L121.44,182.19 L121.82,182.13 L122.20,182.08 L122.58,182.02 L122.97,181.97 L123.35,181.92 L123.73,181.87 L124.11,181.82 L124.49,181.77 L124.87,181.72 L125.25,181.68 L125.63,181.63 L126.02,181.59 L126.40,181.54 L126.78,181.50 L127.16,181.46 L127.54,181.41 L127.92,181.37 L128.30,181.33 L128.68,181.29 L129.06,181.26 L129.45,181.22 L129.83,181.18 L130.21,181.15 L130.59,181.12 L130.97,181.10 L131.35,181.07 L131.73,181.04 L132.11,181.02 L132.50,180.99 L132.88,180.97 L133.26,180.95 L133.64,180.92 L134.02,180.90 L134.40,180.88 L134.78,180.86 L135.16,180.84 L135.55,180.82 L135.93,180.80 L136.31,180.79 L136.69,180.77 L137.07,180.75 L137.45,180.74 L137.83,180.72 L138.21,180.71 L138.59,180.69 L138.98,180.68 L139.36,180.67 L139.74,180.65 L140.12,180.64 L140.50,180.63 L140.88,180.62 L141.26,180.61 L141.64,180.60 L142.03,180.59 L142.41,180.59 L142.79,180.58 L143.17,180.57 L143.55,180.57 L143.93,180.56 L144.31,180.56 L144.69,180.55 L145.08,180.55 L145.46,180.55 L145.84,180.55 L146.22,180.55 L146.60,180.55 L146.98,180.55 L147.36,180.55 L147.74,180.55 L148.12,180.55 L148.51,180.56 L148.89,180.56 L149.27,180.56 L149.65,180.57 L150.03,180.58 L150.41,180.58 L150.79,180.59 L151.17,180.60 L151.56,180.61 L151.94,180.62 L152.32,180.63 L152.70,180.64 L153.08,180.66 L153.46,180.67 L153.84,180.68 L154.22,180.70 L154.61,180.72 L154.99,180.73 L155.37,180.75 L155.75,180.77 L156.13,180.79 L156.51,180.81 L156.89,180.83 L157.27,180.86 L157.65,180.88 L158.04,180.90 L158.42,180.93 L158.80,180.96 L159.18,180.99 L159.56,181.02 L159.94,181.05 L160.32,181.08 L160.70,181.11 L161.09,181.14 L161.47,181.18 L161.85,181.21 L162.23,181.25 L162.61,181.28 L162.99,181.32 L163.37,181.36 L163.75,181.40 L164.14,181.44 L164.52,181.47 L164.90,181.51 L165.28,181.55 L165.66,181.59 L166.04,181.63 L166.42,181.67 L166.80,181.71 L167.18,181.75 L167.57,181.79 L167.95,181.83 L168.33,181.87 L168.71,181.91 L169.09,181.94 L169.47,181.98 L169.85,182.02 L170.23,182.05 L170.62,182.09 L171.00,182.12 L171.38,182.16 L171.76,182.19 L172.14,182.22 L172.52,182.25 L172.90,182.29 L173.28,182.32 L173.67,182.35 L174.05,182.38 L174.43,182.40 L174.81,182.43 L175.19,182.46 L175.57,182.49 L175.95,182.52 L176.33,182.54 L176.72,182.57 L177.10,182.59 L177.48,182.62 L177.86,182.64 L178.24,182.67 L178.62,182.69 L179.00,182.71 L179.38,182.74 L179.76,182.76 L180.15,182.78 L180.53,182.81 L180.91,182.83 L181.29,182.85 L181.67,182.87 L182.05,182.89 L182.43,182.91 L182.81,182.93 L183.20,182.95 L183.58,182.97 L183.96,182.99 L184.34,183.02 L184.72,183.04 L185.10,183.06 L185.48,183.08 L185.86,183.10 L186.25,183.12 L186.63,183.13 L187.01,183.15 L187.39,183.17 L187.77,183.19 L188.15,183.21 L188.53,183.23 L188.91,183.25 L189.29,183.27 L189.68,183.30 L190.06,183.32 L190.44,183.34 L190.82,183.36 L191.20,183.38 L191.58,183.40 L191.96,183.42 L192.34,183.44 L192.73,183.46 L193.11,183.49 L193.49,183.51 L193.87,183.53 L194.25,183.55 L194.63,183.58 L195.01,183.60 L195.39,183.62 L195.78,183.65 L196.16,183.67 L196.54,183.70 L196.92,183.72 L197.30,183.75" fill="none" stroke="#f00" stroke-width="1.45" stroke-dasharray="3.6,1.6"/>
<rect x="44.8" y="168.2" width="152.5" height="107.0" fill="none" stroke="#2a2a2a" stroke-width="1.1"/>
<path d="M45.00,275.2v-2.2M45.00,168.2v2.2M70.38,275.2v-2.2M70.38,168.2v2.2M95.76,275.2v-2.2M95.76,168.2v2.2M121.14,275.2v-2.2M121.14,168.2v2.2M146.52,275.2v-2.2M146.52,168.2v2.2M171.90,275.2v-2.2M171.90,168.2v2.2M197.28,275.2v-2.2M197.28,168.2v2.2M50.08,275.2v-1.3M50.08,168.2v1.3M55.15,275.2v-1.3M55.15,168.2v1.3M60.23,275.2v-1.3M60.23,168.2v1.3M65.30,275.2v-1.3M65.30,168.2v1.3M75.46,275.2v-1.3M75.46,168.2v1.3M80.53,275.2v-1.3M80.53,168.2v1.3M85.61,275.2v-1.3M85.61,168.2v1.3M90.68,275.2v-1.3M90.68,168.2v1.3M100.84,275.2v-1.3M100.84,168.2v1.3M105.91,275.2v-1.3M105.91,168.2v1.3M110.99,275.2v-1.3M110.99,168.2v1.3M116.06,275.2v-1.3M116.06,168.2v1.3M126.22,275.2v-1.3M126.22,168.2v1.3M131.29,275.2v-1.3M131.29,168.2v1.3M136.37,275.2v-1.3M136.37,168.2v1.3M141.44,275.2v-1.3M141.44,168.2v1.3M151.60,275.2v-1.3M151.60,168.2v1.3M156.67,275.2v-1.3M156.67,168.2v1.3M161.75,275.2v-1.3M161.75,168.2v1.3M166.82,275.2v-1.3M166.82,168.2v1.3M176.98,275.2v-1.3M176.98,168.2v1.3M182.05,275.2v-1.3M182.05,168.2v1.3M187.13,275.2v-1.3M187.13,168.2v1.3M192.20,275.2v-1.3M192.20,168.2v1.3M44.8,275.20h2.2M197.3,275.20h-2.2M44.8,259.91h2.2M197.3,259.91h-2.2M44.8,244.63h2.2M197.3,244.63h-2.2M44.8,229.34h2.2M197.3,229.34h-2.2M44.8,214.06h2.2M197.3,214.06h-2.2M44.8,198.77h2.2M197.3,198.77h-2.2M44.8,183.49h2.2M197.3,183.49h-2.2M44.8,168.20h2.2M197.3,168.20h-2.2M44.8,272.14h1.3M197.3,272.14h-1.3M44.8,269.09h1.3M197.3,269.09h-1.3M44.8,266.03h1.3M197.3,266.03h-1.3M44.8,262.97h1.3M197.3,262.97h-1.3M44.8,256.86h1.3M197.3,256.86h-1.3M44.8,253.80h1.3M197.3,253.80h-1.3M44.8,250.74h1.3M197.3,250.74h-1.3M44.8,247.69h1.3M197.3,247.69h-1.3M44.8,241.57h1.3M197.3,241.57h-1.3M44.8,238.51h1.3M197.3,238.51h-1.3M44.8,235.46h1.3M197.3,235.46h-1.3M44.8,232.40h1.3M197.3,232.40h-1.3M44.8,226.29h1.3M197.3,226.29h-1.3M44.8,223.23h1.3M197.3,223.23h-1.3M44.8,220.17h1.3M197.3,220.17h-1.3M44.8,217.11h1.3M197.3,217.11h-1.3M44.8,211.00h1.3M197.3,211.00h-1.3M44.8,207.94h1.3M197.3,207.94h-1.3M44.8,204.89h1.3M197.3,204.89h-1.3M44.8,201.83h1.3M197.3,201.83h-1.3M44.8,195.71h1.3M197.3,195.71h-1.3M44.8,192.66h1.3M197.3,192.66h-1.3M44.8,189.60h1.3M197.3,189.60h-1.3M44.8,186.54h1.3M197.3,186.54h-1.3M44.8,180.43h1.3M197.3,180.43h-1.3M44.8,177.37h1.3M197.3,177.37h-1.3M44.8,174.31h1.3M197.3,174.31h-1.3M44.8,171.26h1.3M197.3,171.26h-1.3" stroke="#222" stroke-width="0.75" fill="none"/>
<text x="44.70" y="289.15" text-anchor="middle" font-size="12" fill="#000" >0</text>
<text x="70.08" y="289.15" text-anchor="middle" font-size="12" fill="#000" >1</text>
<text x="95.46" y="289.15" text-anchor="middle" font-size="12" fill="#000" >2</text>
<text x="120.84" y="289.15" text-anchor="middle" font-size="12" fill="#000" >3</text>
<text x="146.22" y="289.15" text-anchor="middle" font-size="12" fill="#000" >4</text>
<text x="171.60" y="289.15" text-anchor="middle" font-size="12" fill="#000" >5</text>
<text x="196.98" y="289.15" text-anchor="middle" font-size="12" fill="#000" >6</text>
<text x="43.10" y="279.65" text-anchor="end" font-size="12" letter-spacing="0.3" fill="#000" >0.65</text>
<text x="43.10" y="264.36" text-anchor="end" font-size="12" letter-spacing="0.3" fill="#000" >0.70</text>
<text x="43.10" y="249.08" text-anchor="end" font-size="12" letter-spacing="0.3" fill="#000" >0.75</text>
<text x="43.10" y="233.79" text-anchor="end" font-size="12" letter-spacing="0.3" fill="#000" >0.80</text>
<text x="43.10" y="218.51" text-anchor="end" font-size="12" letter-spacing="0.3" fill="#000" >0.85</text>
<text x="43.10" y="203.22" text-anchor="end" font-size="12" letter-spacing="0.3" fill="#000" >0.90</text>
<text x="43.10" y="187.94" text-anchor="end" font-size="12" letter-spacing="0.3" fill="#000" >0.95</text>
<text x="42.80" y="172.65" text-anchor="end" font-size="12" fill="#000" >1.00</text>
<text x="53.00" y="204.90" text-anchor="start" font-size="12.5" fill="#000" >(c)</text>
<g transform="translate(11.7,234.3) rotate(-90)" font-size="12" fill="#000">
<text x="0" y="0" font-size="12" font-style="italic">P</text>
<text x="7.6" y="3.4" font-size="8.5">2</text>
<text x="12.0" y="0" font-size="12">(</text>
<text x="15.5" y="0" font-size="12" font-style="italic">t</text>
<text x="20.4" y="0" font-size="12">)</text>
</g>
<text x="113.6" y="307.9" font-size="12.5" fill="#000"><tspan font-style="italic">tJ</tspan><tspan font-size="9.5" dy="1.9">F</tspan></text>
<path d="M259.20,275.25 L259.71,274.79 L260.22,274.34 L260.73,273.89 L261.24,273.43 L261.75,272.98 L262.26,272.54 L262.77,272.09 L263.28,271.64 L263.79,271.20 L264.30,270.76 L264.81,270.32 L265.32,269.88 L265.83,269.44 L266.34,269.01 L266.85,268.57 L267.36,268.14 L267.86,267.71 L268.37,267.28 L268.88,266.85 L269.39,266.42 L269.90,266.00 L270.41,265.58 L270.92,265.15 L271.43,264.73 L271.94,264.31 L272.45,263.90 L272.96,263.48 L273.47,263.07 L273.98,262.65 L274.49,262.24 L275.00,261.83 L275.51,261.42 L276.02,261.02 L276.53,260.61 L277.04,260.21 L277.55,259.80 L278.06,259.40 L278.57,259.01 L279.08,258.61 L279.59,258.22 L280.10,257.83 L280.61,257.44 L281.12,257.06 L281.63,256.67 L282.14,256.29 L282.65,255.91 L283.16,255.53 L283.67,255.15 L284.18,254.78 L284.68,254.40 L285.19,254.02 L285.70,253.65 L286.21,253.28 L286.72,252.90 L287.23,252.53 L287.74,252.15 L288.25,251.78 L288.76,251.40 L289.27,251.03 L289.78,250.65 L290.29,250.28 L290.80,249.90 L291.31,249.52 L291.82,249.14 L292.33,248.76 L292.84,248.39 L293.35,248.01 L293.86,247.63 L294.37,247.25 L294.88,246.87 L295.39,246.50 L295.90,246.12 L296.41,245.74 L296.92,245.36 L297.43,244.99 L297.94,244.61 L298.45,244.24 L298.96,243.86 L299.47,243.49 L299.98,243.11 L300.49,242.74 L301.00,242.37 L301.51,241.99 L302.01,241.62 L302.52,241.25 L303.03,240.88 L303.54,240.51 L304.05,240.14 L304.56,239.78 L305.07,239.41 L305.58,239.04 L306.09,238.67 L306.60,238.31 L307.11,237.94 L307.62,237.57 L308.13,237.21 L308.64,236.84 L309.15,236.48 L309.66,236.11 L310.17,235.75 L310.68,235.38 L311.19,235.02 L311.70,234.65 L312.21,234.29 L312.72,233.93 L313.23,233.56 L313.74,233.20 L314.25,232.84 L314.76,232.48 L315.27,232.12 L315.78,231.76 L316.29,231.40 L316.80,231.04 L317.31,230.68 L317.82,230.32 L318.33,229.96 L318.83,229.60 L319.34,229.24 L319.85,228.88 L320.36,228.53 L320.87,228.17 L321.38,227.81 L321.89,227.46 L322.40,227.10 L322.91,226.75 L323.42,226.39 L323.93,226.04 L324.44,225.69 L324.95,225.33 L325.46,224.98 L325.97,224.63 L326.48,224.28 L326.99,223.92 L327.50,223.57 L328.01,223.22 L328.52,222.87 L329.03,222.52 L329.54,222.17 L330.05,221.83 L330.56,221.48 L331.07,221.13 L331.58,220.78 L332.09,220.44 L332.60,220.09 L333.11,219.74 L333.62,219.40 L334.13,219.05 L334.64,218.71 L335.15,218.36 L335.65,218.02 L336.16,217.68 L336.67,217.33 L337.18,216.99 L337.69,216.65 L338.20,216.31 L338.71,215.97 L339.22,215.63 L339.73,215.29 L340.24,214.95 L340.75,214.61 L341.26,214.27 L341.77,213.93 L342.28,213.59 L342.79,213.26 L343.30,212.92 L343.81,212.58 L344.32,212.25 L344.83,211.91 L345.34,211.58 L345.85,211.24 L346.36,210.91 L346.87,210.57 L347.38,210.24 L347.89,209.90 L348.40,209.57 L348.91,209.23 L349.42,208.90 L349.93,208.57 L350.44,208.24 L350.95,207.90 L351.46,207.57 L351.97,207.24 L352.47,206.91 L352.98,206.59 L353.49,206.26 L354.00,205.93 L354.51,205.61 L355.02,205.28 L355.53,204.96 L356.04,204.64 L356.55,204.32 L357.06,204.00 L357.57,203.68 L358.08,203.36 L358.59,203.05 L359.10,202.74 L359.61,202.43 L360.12,202.12 L360.63,201.81 L361.14,201.51 L361.65,201.20 L362.16,200.90 L362.67,200.60 L363.18,200.30 L363.69,200.00 L364.20,199.70 L364.71,199.40 L365.22,199.11 L365.73,198.81 L366.24,198.52 L366.75,198.22 L367.26,197.93 L367.77,197.64 L368.28,197.34 L368.79,197.05 L369.29,196.76 L369.80,196.46 L370.31,196.17 L370.82,195.88 L371.33,195.58 L371.84,195.29 L372.35,195.00 L372.86,194.70 L373.37,194.41 L373.88,194.11 L374.39,193.82 L374.90,193.53 L375.41,193.23 L375.92,192.94 L376.43,192.65 L376.94,192.36 L377.45,192.06 L377.96,191.77 L378.47,191.48 L378.98,191.19 L379.49,190.90 L380.00,190.61 L380.51,190.31 L381.02,190.02 L381.53,189.73 L382.04,189.44 L382.55,189.15 L383.06,188.87 L383.57,188.58 L384.08,188.29 L384.59,188.00 L385.10,187.71 L385.61,187.42 L386.12,187.14 L386.62,186.85 L387.13,186.56 L387.64,186.28 L388.15,185.99 L388.66,185.71 L389.17,185.43 L389.68,185.15 L390.19,184.87 L390.70,184.59 L391.21,184.30 L391.72,184.02 L392.23,183.74 L392.74,183.46 L393.25,183.18 L393.76,182.90 L394.27,182.62 L394.78,182.34 L395.29,182.06 L395.80,181.77 L396.31,181.49 L396.82,181.20 L397.33,180.92 L397.84,180.63 L398.35,180.34 L398.86,180.05 L399.37,179.76 L399.88,179.47 L400.39,179.18 L400.90,178.88 L401.41,178.59 L401.92,178.29 L402.43,177.99 L402.94,177.69 L403.44,177.40 L403.95,177.10 L404.46,176.79 L404.97,176.49 L405.48,176.19 L405.99,175.89 L406.50,175.58 L407.01,175.28 L407.52,174.97 L408.03,174.67 L408.54,174.36 L409.05,174.05 L409.56,173.74 L410.07,173.43 L410.58,173.12 L411.09,172.81 L411.60,172.50" fill="none" stroke="#000" stroke-width="1.25" stroke-dasharray="3.8,1.9" stroke-linejoin="round" />
<path d="M259.20,275.25 L259.71,275.24 L260.22,275.22 L260.73,275.19 L261.24,275.16 L261.75,275.12 L262.26,275.08 L262.77,275.03 L263.28,274.97 L263.79,274.89 L264.30,274.82 L264.81,274.73 L265.32,274.64 L265.83,274.54 L266.34,274.42 L266.85,274.30 L267.36,274.17 L267.86,274.03 L268.37,273.88 L268.88,273.73 L269.39,273.57 L269.90,273.40 L270.41,273.22 L270.92,273.04 L271.43,272.84 L271.94,272.64 L272.45,272.42 L272.96,272.19 L273.47,271.93 L273.98,271.65 L274.49,271.35 L275.00,271.04 L275.51,270.73 L276.02,270.40 L276.53,270.08 L277.04,269.76 L277.55,269.45 L278.06,269.13 L278.57,268.81 L279.08,268.49 L279.59,268.16 L280.10,267.83 L280.61,267.50 L281.12,267.16 L281.63,266.82 L282.14,266.48 L282.65,266.13 L283.16,265.77 L283.67,265.42 L284.18,265.06 L284.68,264.69 L285.19,264.33 L285.70,263.96 L286.21,263.59 L286.72,263.23 L287.23,262.86 L287.74,262.49 L288.25,262.12 L288.76,261.75 L289.27,261.38 L289.78,261.01 L290.29,260.64 L290.80,260.26 L291.31,259.89 L291.82,259.51 L292.33,259.13 L292.84,258.76 L293.35,258.38 L293.86,258.00 L294.37,257.61 L294.88,257.23 L295.39,256.85 L295.90,256.47 L296.41,256.09 L296.92,255.71 L297.43,255.33 L297.94,254.95 L298.45,254.57 L298.96,254.19 L299.47,253.81 L299.98,253.43 L300.49,253.06 L301.00,252.68 L301.51,252.30 L302.01,251.93 L302.52,251.55 L303.03,251.17 L303.54,250.80 L304.05,250.42 L304.56,250.05 L305.07,249.68 L305.58,249.30 L306.09,248.93 L306.60,248.56 L307.11,248.19 L307.62,247.83 L308.13,247.46 L308.64,247.10 L309.15,246.73 L309.66,246.37 L310.17,246.00 L310.68,245.64 L311.19,245.27 L311.70,244.90 L312.21,244.53 L312.72,244.16 L313.23,243.79 L313.74,243.41 L314.25,243.03 L314.76,242.65 L315.27,242.27 L315.78,241.89 L316.29,241.50 L316.80,241.12 L317.31,240.74 L317.82,240.35 L318.33,239.96 L318.83,239.58 L319.34,239.19 L319.85,238.81 L320.36,238.42 L320.87,238.04 L321.38,237.65 L321.89,237.27 L322.40,236.89 L322.91,236.50 L323.42,236.12 L323.93,235.75 L324.44,235.37 L324.95,234.99 L325.46,234.62 L325.97,234.25 L326.48,233.88 L326.99,233.51 L327.50,233.14 L328.01,232.78 L328.52,232.41 L329.03,232.05 L329.54,231.68 L330.05,231.31 L330.56,230.95 L331.07,230.58 L331.58,230.21 L332.09,229.84 L332.60,229.47 L333.11,229.10 L333.62,228.73 L334.13,228.35 L334.64,227.97 L335.15,227.59 L335.65,227.21 L336.16,226.82 L336.67,226.44 L337.18,226.05 L337.69,225.66 L338.20,225.26 L338.71,224.87 L339.22,224.48 L339.73,224.08 L340.24,223.69 L340.75,223.29 L341.26,222.89 L341.77,222.50 L342.28,222.10 L342.79,221.71 L343.30,221.31 L343.81,220.92 L344.32,220.52 L344.83,220.13 L345.34,219.74 L345.85,219.35 L346.36,218.95 L346.87,218.56 L347.38,218.16 L347.89,217.77 L348.40,217.37 L348.91,216.98 L349.42,216.58 L349.93,216.19 L350.44,215.79 L350.95,215.39 L351.46,215.00 L351.97,214.60 L352.47,214.21 L352.98,213.82 L353.49,213.43 L354.00,213.04 L354.51,212.65 L355.02,212.26 L355.53,211.87 L356.04,211.49 L356.55,211.11 L357.06,210.73 L357.57,210.35 L358.08,209.97 L358.59,209.60 L359.10,209.23 L359.61,208.86 L360.12,208.49 L360.63,208.13 L361.14,207.77 L361.65,207.41 L362.16,207.05 L362.67,206.69 L363.18,206.34 L363.69,205.98 L364.20,205.63 L364.71,205.28 L365.22,204.93 L365.73,204.58 L366.24,204.23 L366.75,203.88 L367.26,203.53 L367.77,203.19 L368.28,202.84 L368.79,202.49 L369.29,202.15 L369.80,201.80 L370.31,201.45 L370.82,201.10 L371.33,200.76 L371.84,200.41 L372.35,200.06 L372.86,199.71 L373.37,199.36 L373.88,199.01 L374.39,198.67 L374.90,198.32 L375.41,197.97 L375.92,197.63 L376.43,197.28 L376.94,196.94 L377.45,196.59 L377.96,196.25 L378.47,195.90 L378.98,195.56 L379.49,195.21 L380.00,194.87 L380.51,194.52 L381.02,194.18 L381.53,193.84 L382.04,193.49 L382.55,193.15 L383.06,192.80 L383.57,192.45 L384.08,192.11 L384.59,191.76 L385.10,191.42 L385.61,191.07 L386.12,190.72 L386.62,190.37 L387.13,190.03 L387.64,189.68 L388.15,189.33 L388.66,188.98 L389.17,188.63 L389.68,188.28 L390.19,187.93 L390.70,187.59 L391.21,187.24 L391.72,186.89 L392.23,186.54 L392.74,186.19 L393.25,185.84 L393.76,185.49 L394.27,185.14 L394.78,184.79 L395.29,184.44 L395.80,184.09 L396.31,183.74 L396.82,183.39 L397.33,183.04 L397.84,182.69 L398.35,182.34 L398.86,181.99 L399.37,181.64 L399.88,181.28 L400.39,180.93 L400.90,180.58 L401.41,180.23 L401.92,179.88 L402.43,179.53 L402.94,179.18 L403.44,178.83 L403.95,178.48 L404.46,178.13 L404.97,177.77 L405.48,177.42 L405.99,177.07 L406.50,176.72 L407.01,176.37 L407.52,176.02 L408.03,175.67 L408.54,175.31 L409.05,174.96 L409.56,174.61 L410.07,174.26 L410.58,173.90 L411.09,173.55 L411.60,173.20" fill="none" stroke="#000" stroke-width="1.25" stroke-linejoin="round" />
<path d="M259.20,275.25 L259.58,275.22 L259.96,275.16 L260.35,275.08 L260.73,274.98 L261.11,274.87 L261.49,274.72 L261.87,274.52 L262.26,274.29 L262.64,274.03 L263.02,273.76 L263.40,273.48 L263.78,273.21 L264.17,272.94 L264.55,272.65 L264.93,272.35 L265.31,272.03 L265.69,271.71 L266.08,271.38 L266.46,271.04 L266.84,270.70 L267.22,270.35 L267.60,270.00 L267.98,269.64 L268.37,269.28 L268.75,268.90 L269.13,268.52 L269.51,268.14 L269.89,267.75 L270.28,267.35 L270.66,266.95 L271.04,266.55 L271.42,266.14 L271.80,265.74 L272.19,265.33 L272.57,264.93 L272.95,264.51 L273.33,264.09 L273.71,263.66 L274.10,263.22 L274.48,262.78 L274.86,262.34 L275.24,261.90 L275.62,261.47 L276.01,261.04 L276.39,260.63 L276.77,260.23 L277.15,259.84 L277.53,259.47 L277.92,259.11 L278.30,258.75 L278.68,258.39 L279.06,258.03 L279.44,257.69 L279.83,257.35 L280.21,257.02 L280.59,256.71 L280.97,256.41 L281.35,256.12 L281.74,255.84 L282.12,255.59 L282.50,255.34 L282.88,255.10 L283.26,254.86 L283.65,254.63 L284.03,254.41 L284.41,254.19 L284.79,253.99 L285.17,253.80 L285.55,253.62 L285.94,253.45 L286.32,253.30 L286.70,253.16 L287.08,253.04 L287.46,252.92 L287.85,252.81 L288.23,252.69 L288.61,252.59 L288.99,252.49 L289.37,252.41 L289.76,252.35 L290.14,252.31 L290.52,252.30 L290.90,252.30 L291.28,252.31 L291.67,252.31 L292.05,252.32 L292.43,252.33 L292.81,252.35 L293.19,252.36 L293.58,252.38 L293.96,252.40 L294.34,252.42 L294.72,252.46 L295.10,252.52 L295.49,252.58 L295.87,252.65 L296.25,252.73 L296.63,252.81 L297.01,252.89 L297.40,252.98 L297.78,253.06 L298.16,253.13 L298.54,253.21 L298.92,253.28 L299.31,253.36 L299.69,253.45 L300.07,253.53 L300.45,253.61 L300.83,253.70 L301.22,253.78 L301.60,253.87 L301.98,253.95 L302.36,254.04 L302.74,254.13 L303.12,254.21 L303.51,254.30 L303.89,254.39 L304.27,254.48 L304.65,254.57 L305.03,254.66 L305.42,254.75 L305.80,254.84 L306.18,254.93 L306.56,255.03 L306.94,255.12 L307.33,255.20 L307.71,255.29 L308.09,255.38 L308.47,255.47 L308.85,255.56 L309.24,255.64 L309.62,255.73 L310.00,255.81 L310.38,255.89 L310.76,255.98 L311.15,256.06 L311.53,256.15 L311.91,256.23 L312.29,256.31 L312.67,256.40 L313.06,256.48 L313.44,256.56 L313.82,256.64 L314.20,256.73 L314.58,256.81 L314.97,256.89 L315.35,256.97 L315.73,257.05 L316.11,257.13 L316.49,257.21 L316.88,257.29 L317.26,257.37 L317.64,257.45 L318.02,257.53 L318.40,257.61 L318.78,257.69 L319.17,257.77 L319.55,257.85 L319.93,257.92 L320.31,258.00 L320.69,258.08 L321.08,258.15 L321.46,258.23 L321.84,258.30 L322.22,258.38 L322.60,258.45 L322.99,258.53 L323.37,258.60 L323.75,258.67 L324.13,258.74 L324.51,258.82 L324.90,258.89 L325.28,258.96 L325.66,259.04 L326.04,259.11 L326.42,259.19 L326.81,259.26 L327.19,259.34 L327.57,259.42 L327.95,259.49 L328.33,259.57 L328.72,259.64 L329.10,259.72 L329.48,259.79 L329.86,259.87 L330.24,259.94 L330.63,260.01 L331.01,260.08 L331.39,260.15 L331.77,260.22 L332.15,260.29 L332.54,260.36 L332.92,260.43 L333.30,260.49 L333.68,260.56 L334.06,260.62 L334.45,260.68 L334.83,260.74 L335.21,260.80 L335.59,260.85 L335.97,260.91 L336.35,260.96 L336.74,261.01 L337.12,261.06 L337.50,261.10 L337.88,261.15 L338.26,261.19 L338.65,261.22 L339.03,261.26 L339.41,261.30 L339.79,261.33 L340.17,261.37 L340.56,261.40 L340.94,261.43 L341.32,261.46 L341.70,261.49 L342.08,261.52 L342.47,261.54 L342.85,261.57 L343.23,261.59 L343.61,261.62 L343.99,261.64 L344.38,261.66 L344.76,261.69 L345.14,261.71 L345.52,261.73 L345.90,261.75 L346.29,261.77 L346.67,261.80 L347.05,261.82 L347.43,261.84 L347.81,261.86 L348.20,261.88 L348.58,261.90 L348.96,261.92 L349.34,261.94 L349.72,261.95 L350.11,261.97 L350.49,261.98 L350.87,261.99 L351.25,261.99 L351.63,262.00 L352.02,262.00 L352.40,262.00 L352.78,262.00 L353.16,262.00 L353.54,262.00 L353.92,262.00 L354.31,262.00 L354.69,262.00 L355.07,262.00 L355.45,262.00 L355.83,262.00 L356.22,262.00 L356.60,262.00 L356.98,262.00 L357.36,262.00 L357.74,262.00 L358.13,262.00 L358.51,262.00 L358.89,262.00 L359.27,262.00 L359.65,262.00 L360.04,262.00 L360.42,262.00 L360.80,262.00 L361.18,262.00 L361.56,262.00 L361.95,262.00 L362.33,262.00 L362.71,262.00 L363.09,262.00 L363.47,262.00 L363.86,261.99 L364.24,261.99 L364.62,261.98 L365.00,261.97 L365.38,261.95 L365.77,261.94 L366.15,261.92 L366.53,261.91 L366.91,261.89 L367.29,261.87 L367.68,261.85 L368.06,261.83 L368.44,261.81 L368.82,261.78 L369.20,261.76 L369.58,261.74 L369.97,261.72 L370.35,261.69 L370.73,261.67 L371.11,261.65 L371.49,261.63 L371.88,261.61 L372.26,261.59 L372.64,261.56 L373.02,261.54 L373.40,261.52 L373.79,261.49 L374.17,261.47 L374.55,261.44 L374.93,261.42 L375.31,261.39 L375.70,261.37 L376.08,261.34 L376.46,261.31 L376.84,261.28 L377.22,261.26 L377.61,261.23 L377.99,261.20 L378.37,261.17 L378.75,261.14 L379.13,261.11 L379.52,261.09 L379.90,261.06 L380.28,261.03 L380.66,261.00 L381.04,260.98 L381.43,260.95 L381.81,260.93 L382.19,260.90 L382.57,260.88 L382.95,260.85 L383.34,260.83 L383.72,260.80 L384.10,260.78 L384.48,260.75 L384.86,260.73 L385.25,260.70 L385.63,260.68 L386.01,260.65 L386.39,260.63 L386.77,260.61 L387.15,260.58 L387.54,260.56 L387.92,260.53 L388.30,260.51 L388.68,260.49 L389.06,260.46 L389.45,260.44 L389.83,260.42 L390.21,260.39 L390.59,260.37 L390.97,260.35 L391.36,260.32 L391.74,260.30 L392.12,260.28 L392.50,260.25 L392.88,260.23 L393.27,260.21 L393.65,260.19 L394.03,260.17 L394.41,260.14 L394.79,260.12 L395.18,260.10 L395.56,260.08 L395.94,260.06 L396.32,260.04 L396.70,260.02 L397.09,260.00 L397.47,259.98 L397.85,259.95 L398.23,259.93 L398.61,259.91 L399.00,259.89 L399.38,259.87 L399.76,259.85 L400.14,259.84 L400.52,259.82 L400.91,259.80 L401.29,259.78 L401.67,259.76 L402.05,259.74 L402.43,259.72 L402.82,259.70 L403.20,259.68 L403.58,259.66 L403.96,259.64 L404.34,259.63 L404.72,259.61 L405.11,259.59 L405.49,259.57 L405.87,259.55 L406.25,259.54 L406.63,259.52 L407.02,259.50 L407.40,259.48 L407.78,259.47 L408.16,259.45 L408.54,259.43 L408.93,259.41 L409.31,259.40 L409.69,259.38 L410.07,259.36 L410.45,259.35 L410.84,259.33 L411.22,259.32 L411.60,259.30" fill="none" stroke="#f00" stroke-width="1.35" stroke-linejoin="round" />
<path d="M259.20,275.25 L259.58,275.22 L259.96,275.16 L260.35,275.08 L260.73,274.98 L261.11,274.87 L261.49,274.72 L261.87,274.52 L262.26,274.29 L262.64,274.03 L263.02,273.76 L263.40,273.48 L263.78,273.21 L264.17,272.94 L264.55,272.65 L264.93,272.35 L265.31,272.03 L265.69,271.71 L266.08,271.38 L266.46,271.04 L266.84,270.70 L267.22,270.35 L267.60,270.00 L267.98,269.64 L268.37,269.28 L268.75,268.90 L269.13,268.52 L269.51,268.14 L269.89,267.75 L270.28,267.35 L270.66,266.95 L271.04,266.55 L271.42,266.14 L271.80,265.74 L272.19,265.33 L272.57,264.93 L272.95,264.51 L273.33,264.09 L273.71,263.66 L274.10,263.22 L274.48,262.78 L274.86,262.34 L275.24,261.90 L275.62,261.47 L276.01,261.04 L276.39,260.63 L276.77,260.23 L277.15,259.84 L277.53,259.47 L277.92,259.11 L278.30,258.75 L278.68,258.39 L279.06,258.03 L279.44,257.69 L279.83,257.35 L280.21,257.02 L280.59,256.71 L280.97,256.41 L281.35,256.12 L281.74,255.84 L282.12,255.59 L282.50,255.34 L282.88,255.10 L283.26,254.86 L283.65,254.63 L284.03,254.41 L284.41,254.19 L284.79,253.99 L285.17,253.80 L285.55,253.62 L285.94,253.45 L286.32,253.30 L286.70,253.16 L287.08,253.04 L287.46,252.89 L287.85,252.75 L288.23,252.61 L288.61,252.48 L288.99,252.36 L289.37,252.25 L289.76,252.17 L290.14,252.10 L290.52,252.07 L290.90,252.04 L291.28,252.02 L291.67,252.00 L292.05,251.99 L292.43,251.97 L292.81,251.96 L293.19,251.95 L293.58,251.94 L293.96,251.93 L294.34,251.93 L294.72,251.95 L295.10,251.98 L295.49,252.01 L295.87,252.06 L296.25,252.11 L296.63,252.17 L297.01,252.23 L297.40,252.28 L297.78,252.34 L298.16,252.39 L298.54,252.44 L298.92,252.49 L299.31,252.56 L299.69,252.65 L300.07,252.73 L300.45,252.81 L300.83,252.90 L301.22,252.98 L301.60,253.07 L301.98,253.15 L302.36,253.24 L302.74,253.33 L303.12,253.41 L303.51,253.50 L303.89,253.59 L304.27,253.68 L304.65,253.77 L305.03,253.86 L305.42,253.95 L305.80,254.04 L306.18,254.13 L306.56,254.23 L306.94,254.32 L307.33,254.40 L307.71,254.49 L308.09,254.58 L308.47,254.67 L308.85,254.76 L309.24,254.84 L309.62,254.93 L310.00,255.01 L310.38,255.09 L310.76,255.18 L311.15,255.26 L311.53,255.35 L311.91,255.43 L312.29,255.51 L312.67,255.60 L313.06,255.68 L313.44,255.76 L313.82,255.84 L314.20,255.93 L314.58,256.01 L314.97,256.09 L315.35,256.17 L315.73,256.25 L316.11,256.33 L316.49,256.41 L316.88,256.49 L317.26,256.57 L317.64,256.65 L318.02,256.73 L318.40,256.81 L318.78,256.89 L319.17,256.97 L319.55,257.05 L319.93,257.12 L320.31,257.20 L320.69,257.28 L321.08,257.35 L321.46,257.43 L321.84,257.50 L322.22,257.58 L322.60,257.65 L322.99,257.73 L323.37,257.80 L323.75,257.87 L324.13,257.94 L324.51,258.02 L324.90,258.09 L325.28,258.16 L325.66,258.24 L326.04,258.31 L326.42,258.39 L326.81,258.46 L327.19,258.54 L327.57,258.62 L327.95,258.69 L328.33,258.77 L328.72,258.84 L329.10,258.92 L329.48,258.99 L329.86,259.07 L330.24,259.15 L330.63,259.23 L331.01,259.31 L331.39,259.40 L331.77,259.48 L332.15,259.56 L332.54,259.64 L332.92,259.72 L333.30,259.79 L333.68,259.87 L334.06,259.94 L334.45,260.01 L334.83,260.09 L335.21,260.15 L335.59,260.22 L335.97,260.29 L336.35,260.35 L336.74,260.41 L337.12,260.47 L337.50,260.53 L337.88,260.58 L338.26,260.63 L338.65,260.68 L339.03,260.73 L339.41,260.78 L339.79,260.83 L340.17,260.87 L340.56,260.91 L340.94,260.96 L341.32,261.00 L341.70,261.04 L342.08,261.08 L342.47,261.12 L342.85,261.15 L343.23,261.19 L343.61,261.23 L343.99,261.26 L344.38,261.30 L344.76,261.33 L345.14,261.36 L345.52,261.39 L345.90,261.43 L346.29,261.46 L346.67,261.50 L347.05,261.53 L347.43,261.56 L347.81,261.60 L348.20,261.63 L348.58,261.66 L348.96,261.69 L349.34,261.72 L349.72,261.74 L350.11,261.77 L350.49,261.78 L350.87,261.79 L351.25,261.79 L351.63,261.80 L352.02,261.80 L352.40,261.80 L352.78,261.80 L353.16,261.80 L353.54,261.80 L353.92,261.80 L354.31,261.80 L354.69,261.80 L355.07,261.80 L355.45,261.80 L355.83,261.80 L356.22,261.80 L356.60,261.80 L356.98,261.80 L357.36,261.80 L357.74,261.80 L358.13,261.80 L358.51,261.80 L358.89,261.80 L359.27,261.80 L359.65,261.80 L360.04,261.80 L360.42,261.80 L360.80,261.80 L361.18,261.80 L361.56,261.80 L361.95,261.80 L362.33,261.80 L362.71,261.80 L363.09,261.80 L363.47,261.80 L363.86,261.79 L364.24,261.79 L364.62,261.78 L365.00,261.77 L365.38,261.75 L365.77,261.74 L366.15,261.72 L366.53,261.71 L366.91,261.69 L367.29,261.67 L367.68,261.65 L368.06,261.63 L368.44,261.61 L368.82,261.58 L369.20,261.56 L369.58,261.54 L369.97,261.52 L370.35,261.49 L370.73,261.47 L371.11,261.45 L371.49,261.43 L371.88,261.41 L372.26,261.39 L372.64,261.36 L373.02,261.34 L373.40,261.32 L373.79,261.29 L374.17,261.27 L374.55,261.24 L374.93,261.22 L375.31,261.19 L375.70,261.17 L376.08,261.14 L376.46,261.11 L376.84,261.08 L377.22,261.06 L377.61,261.03 L377.99,261.00 L378.37,260.97 L378.75,260.94 L379.13,260.91 L379.52,260.89 L379.90,260.86 L380.28,260.83 L380.66,260.80 L381.04,260.78 L381.43,260.75 L381.81,260.73 L382.19,260.70 L382.57,260.68 L382.95,260.65 L383.34,260.63 L383.72,260.60 L384.10,260.58 L384.48,260.55 L384.86,260.53 L385.25,260.50 L385.63,260.48 L386.01,260.45 L386.39,260.43 L386.77,260.41 L387.15,260.38 L387.54,260.36 L387.92,260.33 L388.30,260.31 L388.68,260.29 L389.06,260.26 L389.45,260.24 L389.83,260.22 L390.21,260.19 L390.59,260.17 L390.97,260.15 L391.36,260.12 L391.74,260.10 L392.12,260.08 L392.50,260.05 L392.88,260.03 L393.27,260.01 L393.65,259.99 L394.03,259.97 L394.41,259.94 L394.79,259.92 L395.18,259.90 L395.56,259.88 L395.94,259.86 L396.32,259.84 L396.70,259.82 L397.09,259.80 L397.47,259.78 L397.85,259.75 L398.23,259.73 L398.61,259.71 L399.00,259.69 L399.38,259.67 L399.76,259.65 L400.14,259.64 L400.52,259.62 L400.91,259.60 L401.29,259.58 L401.67,259.56 L402.05,259.54 L402.43,259.52 L402.82,259.50 L403.20,259.48 L403.58,259.46 L403.96,259.44 L404.34,259.43 L404.72,259.41 L405.11,259.39 L405.49,259.37 L405.87,259.35 L406.25,259.34 L406.63,259.32 L407.02,259.30 L407.40,259.28 L407.78,259.27 L408.16,259.25 L408.54,259.23 L408.93,259.21 L409.31,259.20 L409.69,259.18 L410.07,259.16 L410.45,259.15 L410.84,259.13 L411.22,259.12 L411.60,259.10" fill="none" stroke="#f00" stroke-width="1.45" stroke-dasharray="3.6,1.6"/>
<rect x="259.5" y="168.3" width="152.10000000000002" height="106.94999999999999" fill="none" stroke="#2a2a2a" stroke-width="1.1"/>
<path d="M259.20,275.25v-2.2M259.20,168.3v2.2M284.60,275.25v-2.2M284.60,168.3v2.2M310.00,275.25v-2.2M310.00,168.3v2.2M335.40,275.25v-2.2M335.40,168.3v2.2M360.80,275.25v-2.2M360.80,168.3v2.2M386.20,275.25v-2.2M386.20,168.3v2.2M411.60,275.25v-2.2M411.60,168.3v2.2M264.28,275.25v-1.3M264.28,168.3v1.3M269.36,275.25v-1.3M269.36,168.3v1.3M274.44,275.25v-1.3M274.44,168.3v1.3M279.52,275.25v-1.3M279.52,168.3v1.3M289.68,275.25v-1.3M289.68,168.3v1.3M294.76,275.25v-1.3M294.76,168.3v1.3M299.84,275.25v-1.3M299.84,168.3v1.3M304.92,275.25v-1.3M304.92,168.3v1.3M315.08,275.25v-1.3M315.08,168.3v1.3M320.16,275.25v-1.3M320.16,168.3v1.3M325.24,275.25v-1.3M325.24,168.3v1.3M330.32,275.25v-1.3M330.32,168.3v1.3M340.48,275.25v-1.3M340.48,168.3v1.3M345.56,275.25v-1.3M345.56,168.3v1.3M350.64,275.25v-1.3M350.64,168.3v1.3M355.72,275.25v-1.3M355.72,168.3v1.3M365.88,275.25v-1.3M365.88,168.3v1.3M370.96,275.25v-1.3M370.96,168.3v1.3M376.04,275.25v-1.3M376.04,168.3v1.3M381.12,275.25v-1.3M381.12,168.3v1.3M391.28,275.25v-1.3M391.28,168.3v1.3M396.36,275.25v-1.3M396.36,168.3v1.3M401.44,275.25v-1.3M401.44,168.3v1.3M406.52,275.25v-1.3M406.52,168.3v1.3M259.5,275.25h2.2M411.6,275.25h-2.2M259.5,259.99h2.2M411.6,259.99h-2.2M259.5,244.72h2.2M411.6,244.72h-2.2M259.5,229.46h2.2M411.6,229.46h-2.2M259.5,214.19h2.2M411.6,214.19h-2.2M259.5,198.93h2.2M411.6,198.93h-2.2M259.5,183.66h2.2M411.6,183.66h-2.2M259.5,168.40h2.2M411.6,168.40h-2.2M259.5,272.20h1.3M411.6,272.20h-1.3M259.5,269.14h1.3M411.6,269.14h-1.3M259.5,266.09h1.3M411.6,266.09h-1.3M259.5,263.04h1.3M411.6,263.04h-1.3M259.5,256.93h1.3M411.6,256.93h-1.3M259.5,253.88h1.3M411.6,253.88h-1.3M259.5,250.83h1.3M411.6,250.83h-1.3M259.5,247.77h1.3M411.6,247.77h-1.3M259.5,241.67h1.3M411.6,241.67h-1.3M259.5,238.62h1.3M411.6,238.62h-1.3M259.5,235.56h1.3M411.6,235.56h-1.3M259.5,232.51h1.3M411.6,232.51h-1.3M259.5,226.40h1.3M411.6,226.40h-1.3M259.5,223.35h1.3M411.6,223.35h-1.3M259.5,220.30h1.3M411.6,220.30h-1.3M259.5,217.25h1.3M411.6,217.25h-1.3M259.5,211.14h1.3M411.6,211.14h-1.3M259.5,208.09h1.3M411.6,208.09h-1.3M259.5,205.03h1.3M411.6,205.03h-1.3M259.5,201.98h1.3M411.6,201.98h-1.3M259.5,195.88h1.3M411.6,195.88h-1.3M259.5,192.82h1.3M411.6,192.82h-1.3M259.5,189.77h1.3M411.6,189.77h-1.3M259.5,186.72h1.3M411.6,186.72h-1.3M259.5,180.61h1.3M411.6,180.61h-1.3M259.5,177.56h1.3M411.6,177.56h-1.3M259.5,174.51h1.3M411.6,174.51h-1.3M259.5,171.45h1.3M411.6,171.45h-1.3" stroke="#222" stroke-width="0.75" fill="none"/>
<text x="259.20" y="289.15" text-anchor="middle" font-size="12" fill="#000" >0</text>
<text x="284.60" y="289.15" text-anchor="middle" font-size="12" fill="#000" >1</text>
<text x="310.00" y="289.15" text-anchor="middle" font-size="12" fill="#000" >2</text>
<text x="335.40" y="289.15" text-anchor="middle" font-size="12" fill="#000" >3</text>
<text x="360.80" y="289.15" text-anchor="middle" font-size="12" fill="#000" >4</text>
<text x="386.20" y="289.15" text-anchor="middle" font-size="12" fill="#000" >5</text>
<text x="411.60" y="289.15" text-anchor="middle" font-size="12" fill="#000" >6</text>
<text x="257.30" y="279.75" text-anchor="end" font-size="12" letter-spacing="0.3" fill="#000" >0.00</text>
<text x="257.30" y="264.49" text-anchor="end" font-size="12" letter-spacing="0.3" fill="#000" >0.05</text>
<text x="257.30" y="249.22" text-anchor="end" font-size="12" letter-spacing="0.3" fill="#000" >0.10</text>
<text x="257.30" y="233.96" text-anchor="end" font-size="12" letter-spacing="0.3" fill="#000" >0.15</text>
<text x="257.30" y="218.69" text-anchor="end" font-size="12" letter-spacing="0.3" fill="#000" >0.20</text>
<text x="257.30" y="203.43" text-anchor="end" font-size="12" letter-spacing="0.3" fill="#000" >0.25</text>
<text x="257.30" y="188.16" text-anchor="end" font-size="12" letter-spacing="0.3" fill="#000" >0.30</text>
<text x="257.30" y="172.90" text-anchor="end" font-size="12" letter-spacing="0.3" fill="#000" >0.35</text>
<text x="266.80" y="182.70" text-anchor="start" font-size="12.5" fill="#000" >(d)</text>
<g transform="translate(225.5,235.0) rotate(-90)" font-size="12" fill="#000">
<text x="0" y="0" font-size="12" font-style="italic">N</text>
<text x="8.8" y="2.7" font-size="8.7">tri</text>
<text x="15.8" y="0" font-size="12">(</text>
<text x="19.2" y="0" font-size="12" font-style="italic">t</text>
<text x="23.3" y="0" font-size="12">)</text>
</g>
<text x="327.8" y="307.9" font-size="12.5" fill="#000"><tspan font-style="italic">tJ</tspan><tspan font-size="9.5" dy="1.9">F</tspan></text>
</svg></body></html>
